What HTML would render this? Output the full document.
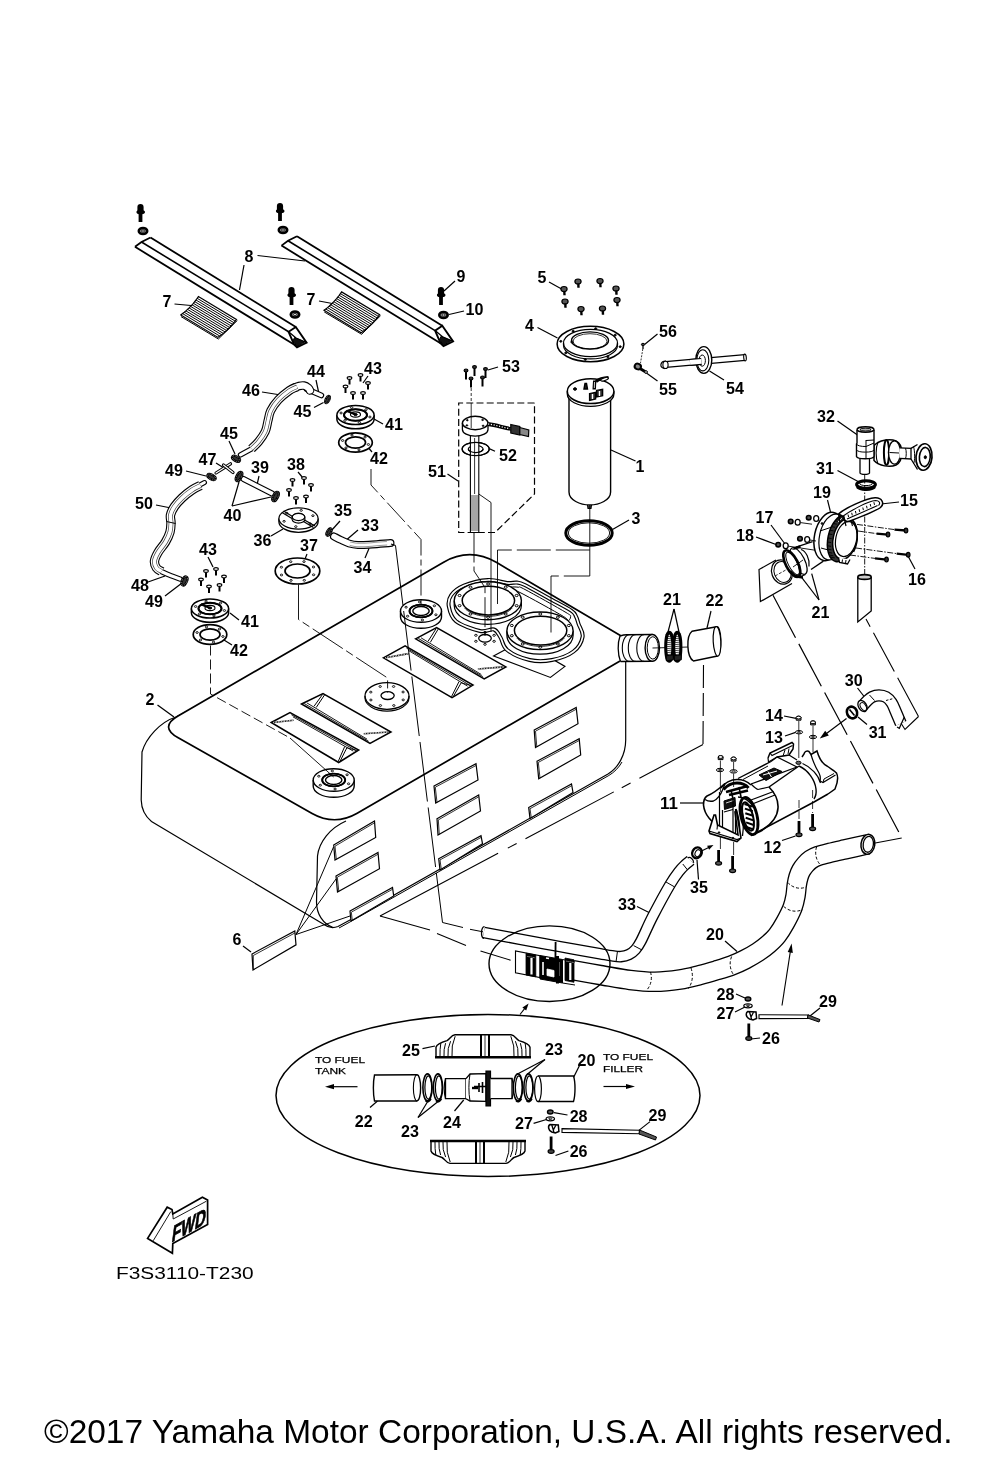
<!DOCTYPE html>
<html><head><meta charset="utf-8"><title>Fuel Tank</title>
<style>
html,body{margin:0;padding:0;background:#fff;}
body{width:1000px;height:1457px;overflow:hidden;font-family:"Liberation Sans",sans-serif;}
svg{display:block;filter:grayscale(1);font-family:"Liberation Sans",sans-serif;}
</style></head><body>
<svg width="1000" height="1457" viewBox="0 0 1000 1457" fill="none" stroke="#000" stroke-linecap="butt" stroke-linejoin="miter">
<rect x="0" y="0" width="1000" height="1457" fill="#fff" stroke="none"/>
<path d="M176 717C160 722 146 738 142 752L141.2 800C141.5 810 146 817 151.5 821.5L324 924.5C328 927.5 333 928.5 338 926.5L350 920L608 774C618 768 625.7 755 625.7 740L625.7 660L620 636L470 562Z" stroke-width="1.2" fill="#fff"/>
<path d="M178.2 737.8Q159 727 178 716L443.2 562.4Q470 546.9 496.7 562.6L640.3 647.3Q642 648.3 640.3 649.3L357.2 813.2Q334.7 826.2 312.1 813.4Z" stroke-width="1.7" fill="#fff"/>
<path d="M339 928L350.8 921.5L608.8 775.5C614 772.5 619 767.5 622 762" stroke-width="1"/>
<path d="M346 821C330 828 319 842 317.5 856L316.5 902C316.5 914 323 924 333 927.5" stroke-width="1.2"/>
<path d="M333.7 845L374.5 821L375.7 837.5L335 860Z" stroke-width="1.2" fill="#fff"/>
<path d="M336.3 859.4L335 846.2L374.5 822.8" stroke-width="0.8"/>
<path d="M336 876L378 852.5L379.5 868.7L337.5 892Z" stroke-width="1.2" fill="#fff"/>
<path d="M338.8 891.4L337.3 877.2L378 854.3" stroke-width="0.8"/>
<path d="M350 911L392.5 887.5L393.7 896L351 921Z" stroke-width="1.2" fill="#fff"/>
<path d="M352.3 920.4L351.3 912.2L392.5 889.3" stroke-width="0.8"/>
<path d="M434 786L476 763.7L478 780L435.7 803Z" stroke-width="1.2" fill="#fff"/>
<path d="M437 802.4L435.3 787.2L476 765.5" stroke-width="0.8"/>
<path d="M437 818.7L478.7 795L480.5 811L438 835Z" stroke-width="1.2" fill="#fff"/>
<path d="M439.3 834.4L438.3 819.9L478.7 796.8" stroke-width="0.8"/>
<path d="M438.7 858.7L481 835.7L482.5 843.7L440 870Z" stroke-width="1.2" fill="#fff"/>
<path d="M441.3 869.4L440 859.9L481 837.5" stroke-width="0.8"/>
<path d="M534.2 730L576.2 707.5L578 723.7L535.5 747.5Z" stroke-width="1.2" fill="#fff"/>
<path d="M536.8 746.9L535.5 731.2L576.2 709.3" stroke-width="0.8"/>
<path d="M537 761.2L579.2 738.7L580.7 755L538.7 778.7Z" stroke-width="1.2" fill="#fff"/>
<path d="M540 778.1L538.3 762.4L579.2 740.5" stroke-width="0.8"/>
<path d="M528.7 807.5L571.5 784L573 792.5L530 818.5Z" stroke-width="1.2" fill="#fff"/>
<path d="M531.3 817.9L530 808.7L571.5 785.8" stroke-width="0.8"/>
<path d="M252 954L294.8 931L296 944.8L253 970Z" stroke-width="1.2" fill="#fff"/>
<path d="M253.3 969L253.3 955.5L294.8 933" stroke-width="0.8"/>
<path d="M296 934.5L333.5 847" stroke-width="1"/>
<path d="M296 934.5L336 879" stroke-width="1"/>
<path d="M296 934.5L350 916" stroke-width="1"/>
<path d="M271.2 722.5L290 712.5L358.7 750L338.7 762.5Z" stroke-width="1.5" fill="#fff"/>
<path d="M291.4 714.7L356 750.5" stroke-width="0.9"/>
<path d="M292.9 716.8L353.3 751.1" stroke-width="0.9"/>
<path d="M273.2 722.5L293.5 720.2" stroke-width="1.6"/>
<path d="M273.2 722.5L293.5 720.2" stroke="#fff" stroke-width="1.6" stroke-dasharray="0.7 0.9"/>
<path d="M344.7 746.5L338.2 761.5" stroke-width="1"/>
<path d="M346.9 747.7L340.2 761" stroke-width="1"/>
<path d="M346.9 747.7L356.7 750.5" stroke-width="0.9"/>
<path d="M301.5 704L323 693.5L391 732L370 743.5Z" stroke-width="1.5" fill="#fff"/>
<path d="M304.2 703.5L368.6 741.3" stroke-width="0.9"/>
<path d="M306.9 702.9L367.1 739.2" stroke-width="0.9"/>
<path d="M322.5 694.5L314 706.3" stroke-width="1"/>
<path d="M324.5 695L316.2 707.5" stroke-width="1"/>
<path d="M363.7 733.7L389 732" stroke-width="1.6"/>
<path d="M363.7 733.7L389 732" stroke="#fff" stroke-width="1.6" stroke-dasharray="0.7 0.9"/>
<path d="M383.4 657.8L405.1 645.9L473 685.1L452 697.7Z" stroke-width="1.5" fill="#fff"/>
<path d="M406.5 648.1L470.3 685.6" stroke-width="0.9"/>
<path d="M408 650.2L467.6 686.2" stroke-width="0.9"/>
<path d="M385.4 657.8L408.6 653.6" stroke-width="1.6"/>
<path d="M385.4 657.8L408.6 653.6" stroke="#fff" stroke-width="1.6" stroke-dasharray="0.7 0.9"/>
<path d="M459 681.6L451.5 696.7" stroke-width="1"/>
<path d="M461.2 682.8L453.5 696.2" stroke-width="1"/>
<path d="M461.2 682.8L471 685.6" stroke-width="0.9"/>
<path d="M415.6 638.9L436.6 627.7L505.9 666.9L484.2 678.8Z" stroke-width="1.5" fill="#fff"/>
<path d="M418.3 638.4L482.8 676.6" stroke-width="0.9"/>
<path d="M421 637.8L481.3 674.5" stroke-width="0.9"/>
<path d="M436.1 628.7L428.1 641.2" stroke-width="1"/>
<path d="M438.1 629.2L430.3 642.4" stroke-width="1"/>
<path d="M477.9 669L503.9 666.9" stroke-width="1.6"/>
<path d="M477.9 669L503.9 666.9" stroke="#fff" stroke-width="1.6" stroke-dasharray="0.7 0.9"/>
<path d="M313.2 780L313.2 786A20.5 11.3 0 0 0 354.2 786L354.2 780" stroke-width="1.4" fill="#fff"/>
<ellipse cx="333.7" cy="780" rx="20.5" ry="11.3" stroke-width="1.4" fill="#fff"/>
<ellipse cx="333.7" cy="780" rx="11.5" ry="6.4" stroke-width="1.4"/>
<ellipse cx="333.7" cy="780" rx="8.2" ry="4.5" stroke-width="1.4"/>
<ellipse cx="348.6" cy="783.8" rx="1.2" ry="0.9" stroke-width="0.9"/>
<ellipse cx="335.1" cy="789" rx="1.2" ry="0.9" stroke-width="0.9"/>
<ellipse cx="320.3" cy="785.2" rx="1.2" ry="0.9" stroke-width="0.9"/>
<ellipse cx="318.8" cy="776.2" rx="1.2" ry="0.9" stroke-width="0.9"/>
<ellipse cx="332.3" cy="771" rx="1.2" ry="0.9" stroke-width="0.9"/>
<ellipse cx="347.1" cy="774.8" rx="1.2" ry="0.9" stroke-width="0.9"/>
<ellipse cx="333.7" cy="780" rx="11.5" ry="6.4" stroke-width="1.9"/>
<path d="M400.5 611L400.5 617A20.5 11.3 0 0 0 441.5 617L441.5 611" stroke-width="1.4" fill="#fff"/>
<ellipse cx="421" cy="611" rx="20.5" ry="11.3" stroke-width="1.4" fill="#fff"/>
<ellipse cx="421" cy="611" rx="11.5" ry="6.4" stroke-width="1.4"/>
<ellipse cx="421" cy="611" rx="8.2" ry="4.5" stroke-width="1.4"/>
<ellipse cx="435.9" cy="614.8" rx="1.2" ry="0.9" stroke-width="0.9"/>
<ellipse cx="422.4" cy="620" rx="1.2" ry="0.9" stroke-width="0.9"/>
<ellipse cx="407.6" cy="616.2" rx="1.2" ry="0.9" stroke-width="0.9"/>
<ellipse cx="406.1" cy="607.2" rx="1.2" ry="0.9" stroke-width="0.9"/>
<ellipse cx="419.6" cy="602" rx="1.2" ry="0.9" stroke-width="0.9"/>
<ellipse cx="434.4" cy="605.8" rx="1.2" ry="0.9" stroke-width="0.9"/>
<ellipse cx="421" cy="611" rx="11.5" ry="6.4" stroke-width="1.9"/>
<ellipse cx="387" cy="696" rx="22" ry="13.3" stroke-width="1.3" fill="#fff"/>
<path d="M365 696L365 697.8A22 13.3 0 0 0 409 697.8L409 696" stroke-width="1.1"/>
<ellipse cx="387.6" cy="695.6" rx="6.6" ry="3.9" stroke-width="1.3"/>
<ellipse cx="403.2" cy="699.9" rx="1.2" ry="0.9" stroke-width="0.9"/>
<ellipse cx="393.8" cy="705.5" rx="1.2" ry="0.9" stroke-width="0.9"/>
<ellipse cx="380.4" cy="705.5" rx="1.2" ry="0.9" stroke-width="0.9"/>
<ellipse cx="370.9" cy="700" rx="1.2" ry="0.9" stroke-width="0.9"/>
<ellipse cx="370.8" cy="692.1" rx="1.2" ry="0.9" stroke-width="0.9"/>
<ellipse cx="380.2" cy="686.5" rx="1.2" ry="0.9" stroke-width="0.9"/>
<ellipse cx="393.6" cy="686.5" rx="1.2" ry="0.9" stroke-width="0.9"/>
<ellipse cx="403.1" cy="692" rx="1.2" ry="0.9" stroke-width="0.9"/>
<path d="M493.6 656L550.4 677.5L565 666.4L521 641Z" stroke-width="1.1"/>
<path d="M448.8 606.4C448 602.1 448.7 598.7 451.2 595.2C453.7 591.7 457.9 588.1 464 585.6C470.1 583.1 480.8 580.4 488 580C495.2 579.6 502.4 582.6 507.2 583C512 583.4 513.9 582.3 516.8 582.6C519.7 582.9 519.6 582.5 524.8 585C530 587.5 540.3 593.5 548 597.8C555.7 602.1 566.5 607.5 571.2 610.6C575.9 613.7 574.8 614.3 576 616.5C577.2 618.7 577.5 620.6 578.6 624C579.7 627.4 583.5 632.2 582.6 636.8C581.8 641.4 578.6 647.6 573.5 651.5C568.4 655.4 559.3 658.6 552 660C544.7 661.4 537.1 661.7 529.6 660C522.1 658.3 512 653.8 507.2 650C502.3 646.2 502.7 640.9 500.5 637.5C498.3 634.1 497.4 630.6 494 629.5C490.6 628.4 486.3 632.4 480 631C473.7 629.6 461.2 625.3 456 621.2C450.8 617.1 449.6 610.7 448.8 606.4Z" stroke-width="4" fill="#fff"/>
<path d="M448.8 606.4C448 602.1 448.7 598.7 451.2 595.2C453.7 591.7 457.9 588.1 464 585.6C470.1 583.1 480.8 580.4 488 580C495.2 579.6 502.4 582.6 507.2 583C512 583.4 513.9 582.3 516.8 582.6C519.7 582.9 519.6 582.5 524.8 585C530 587.5 540.3 593.5 548 597.8C555.7 602.1 566.5 607.5 571.2 610.6C575.9 613.7 574.8 614.3 576 616.5C577.2 618.7 577.5 620.6 578.6 624C579.7 627.4 583.5 632.2 582.6 636.8C581.8 641.4 578.6 647.6 573.5 651.5C568.4 655.4 559.3 658.6 552 660C544.7 661.4 537.1 661.7 529.6 660C522.1 658.3 512 653.8 507.2 650C502.3 646.2 502.7 640.9 500.5 637.5C498.3 634.1 497.4 630.6 494 629.5C490.6 628.4 486.3 632.4 480 631C473.7 629.6 461.2 625.3 456 621.2C450.8 617.1 449.6 610.7 448.8 606.4Z" stroke-width="1.7" stroke="#fff"/>
<path d="M511 587C512.2 587 515.7 586.8 518 587.2C520.3 587.6 517 585.3 525 589.5C533 593.7 558.4 607.9 566 612.5C573.6 617.1 570.1 615.6 570.5 617C570.9 618.4 568.8 620.3 568.5 621" stroke-width="1"/>
<path d="M513 591.5C514.2 591.7 511.6 588.3 520 592.5C528.4 596.7 555.8 611.8 563.5 616.5C571.2 621.2 565.6 619.8 566 620.5" stroke-width="1"/>
<path d="M454.2 600.8L454.2 605.4A33.6 19 0 0 0 521.4 605.4L521.4 600.8" stroke-width="1.2" fill="#fff"/>
<ellipse cx="487.8" cy="600.8" rx="33.6" ry="19" stroke-width="1.4" fill="#fff"/>
<ellipse cx="488.4" cy="600.6" rx="26.2" ry="14.4" stroke-width="1.5"/>
<path d="M512.1 608.1L511 609.3L509.6 610.4L508.1 611.5L506.4 612.5L504.5 613.4L502.5 614.1L500.3 614.8L498.1 615.4L495.7 615.8L493.3 616.1L490.9 616.3L488.4 616.4L485.9 616.3L483.5 616.1L481.1 615.8L478.7 615.4L476.5 614.8L474.3 614.1L472.3 613.4L470.4 612.5L468.7 611.5L467.2 610.4L465.8 609.3L464.7 608.1" stroke-width="0.8"/>
<ellipse cx="516.6" cy="605.7" rx="1.5" ry="1.1" stroke-width="1"/>
<ellipse cx="505.7" cy="614" rx="1.5" ry="1.1" stroke-width="1"/>
<ellipse cx="488.1" cy="617.2" rx="1.5" ry="1.1" stroke-width="1"/>
<ellipse cx="470.5" cy="614" rx="1.5" ry="1.1" stroke-width="1"/>
<ellipse cx="459.6" cy="605.7" rx="1.5" ry="1.1" stroke-width="1"/>
<ellipse cx="459.6" cy="595.5" rx="1.5" ry="1.1" stroke-width="1"/>
<ellipse cx="470.5" cy="587.2" rx="1.5" ry="1.1" stroke-width="1"/>
<ellipse cx="488.1" cy="584" rx="1.5" ry="1.1" stroke-width="1"/>
<ellipse cx="505.7" cy="587.2" rx="1.5" ry="1.1" stroke-width="1"/>
<ellipse cx="516.6" cy="595.5" rx="1.5" ry="1.1" stroke-width="1"/>
<path d="M506.9 630.8L506.9 635.4A33.1 18.8 0 0 0 573.1 635.4L573.1 630.8" stroke-width="1.2" fill="#fff"/>
<ellipse cx="540" cy="630.8" rx="33.1" ry="18.8" stroke-width="1.4" fill="#fff"/>
<ellipse cx="540.6" cy="630.6" rx="26.2" ry="14.4" stroke-width="1.5"/>
<path d="M564.3 638.1L563.2 639.3L561.8 640.4L560.3 641.5L558.6 642.5L556.7 643.4L554.7 644.1L552.5 644.8L550.3 645.4L547.9 645.8L545.5 646.1L543.1 646.3L540.6 646.4L538.1 646.3L535.7 646.1L533.3 645.8L530.9 645.4L528.7 644.8L526.5 644.1L524.5 643.4L522.6 642.5L520.9 641.5L519.4 640.4L518 639.3L516.9 638.1" stroke-width="0.8"/>
<ellipse cx="568.8" cy="635.7" rx="1.5" ry="1.1" stroke-width="1"/>
<ellipse cx="557.9" cy="644" rx="1.5" ry="1.1" stroke-width="1"/>
<ellipse cx="540.3" cy="647.2" rx="1.5" ry="1.1" stroke-width="1"/>
<ellipse cx="522.7" cy="644" rx="1.5" ry="1.1" stroke-width="1"/>
<ellipse cx="511.8" cy="635.7" rx="1.5" ry="1.1" stroke-width="1"/>
<ellipse cx="511.8" cy="625.5" rx="1.5" ry="1.1" stroke-width="1"/>
<ellipse cx="522.7" cy="617.2" rx="1.5" ry="1.1" stroke-width="1"/>
<ellipse cx="540.3" cy="614" rx="1.5" ry="1.1" stroke-width="1"/>
<ellipse cx="557.9" cy="617.2" rx="1.5" ry="1.1" stroke-width="1"/>
<ellipse cx="568.8" cy="625.5" rx="1.5" ry="1.1" stroke-width="1"/>
<ellipse cx="485" cy="638.3" rx="6.3" ry="3.8" stroke-width="1.3"/>
<ellipse cx="494.1" cy="641.3" rx="1.3" ry="1" stroke-width="0.9"/>
<ellipse cx="485" cy="644.3" rx="1.3" ry="1" stroke-width="0.9"/>
<ellipse cx="475.9" cy="641.3" rx="1.3" ry="1" stroke-width="0.9"/>
<ellipse cx="475.9" cy="635.3" rx="1.3" ry="1" stroke-width="0.9"/>
<ellipse cx="485" cy="632.3" rx="1.3" ry="1" stroke-width="0.9"/>
<ellipse cx="494.1" cy="635.3" rx="1.3" ry="1" stroke-width="0.9"/>
<path d="M620 636C617 643 617 654 620 661.5L652 661.5L652 634.5L626 634.8Z" stroke-width="0" fill="#fff"/>
<path d="M620 636C617.5 643 617.5 654 620.5 661.5" stroke-width="1.3"/>
<path d="M620 636C623 635 625 634.8 627 634.8L652.5 634.5" stroke-width="1.4"/>
<path d="M620.5 661.5L652.5 661.3" stroke-width="1.4"/>
<ellipse cx="652.3" cy="647.9" rx="7.2" ry="13.4" stroke-width="1.4" fill="#fff"/>
<ellipse cx="652.8" cy="647.9" rx="5.6" ry="11.2" stroke-width="1"/>
<path d="M629.5 661.4L628.6 661.3L627.6 660.9L626.7 660.4L625.9 659.6L625.1 658.6L624.4 657.5L623.8 656.2L623.3 654.7L622.8 653.1L622.5 651.5L622.4 649.7L622.3 648L622.4 646.3L622.5 644.5L622.8 642.9L623.3 641.3L623.8 639.8L624.4 638.5L625.1 637.4L625.9 636.4L626.7 635.6L627.6 635.1L628.6 634.7L629.5 634.6" stroke-width="1.1"/>
<path d="M635.5 661.4L634.6 661.3L633.6 660.9L632.7 660.4L631.9 659.6L631.1 658.6L630.4 657.5L629.8 656.2L629.3 654.7L628.8 653.1L628.5 651.5L628.4 649.7L628.3 648L628.4 646.3L628.5 644.5L628.8 642.9L629.3 641.3L629.8 639.8L630.4 638.5L631.1 637.4L631.9 636.4L632.7 635.6L633.6 635.1L634.6 634.7L635.5 634.6" stroke-width="1.1"/>
<path d="M644 661.4L643.1 661.3L642.1 660.9L641.2 660.4L640.4 659.6L639.6 658.6L638.9 657.5L638.3 656.2L637.8 654.7L637.3 653.1L637 651.5L636.9 649.7L636.8 648L636.9 646.3L637 644.5L637.3 642.9L637.8 641.3L638.3 639.8L638.9 638.5L639.6 637.4L640.4 636.4L641.2 635.6L642.1 635.1L643.1 634.7L644 634.6" stroke-width="1.1"/>
<path d="M371 469L371 485L421 539.5L421 606" stroke-width="0.9" stroke-dasharray="26 4 6 4"/>
<path d="M210.5 645.5L210.5 694L290 738" stroke-width="0.9" stroke-dasharray="10 4"/>
<path d="M290 738L333.7 777" stroke-width="0.9"/>
<path d="M298.5 584.5L298.5 619.5L387.6 678L387.6 693" stroke-width="0.9" stroke-dasharray="36 4 8 4"/>
<path d="M395.5 545.5L442.5 922.5" stroke-width="1" stroke-dasharray="60 6"/>
<path d="M442.5 922.5L463 927.5" stroke-width="1"/>
<path d="M470 929.3L483 931.8" stroke-width="1"/>
<path d="M474 532.5L474 571L485 587.5L485 636" stroke-width="0.9" stroke-dasharray="30 4"/>
<path d="M471.2 388L471.2 404" stroke-width="0.8" stroke-dasharray="3 2"/>
<path d="M589.8 508.5L589.8 576" stroke-width="0.9"/>
<path d="M589.8 550L497.5 550" stroke-width="0.9" stroke-dasharray="34 5"/>
<path d="M497.5 550L497.5 604" stroke-width="0.9"/>
<path d="M589.8 576L551 576" stroke-width="0.9" stroke-dasharray="26 5"/>
<path d="M551 576L551 632.5" stroke-width="0.9"/>
<path d="M703.5 665L703 744.5" stroke-width="1.1" stroke-dasharray="23 5"/>
<path d="M703 744.5L380 916" stroke-width="1.1" stroke-dasharray="72 10 10 9 100 10 10 11 150"/>
<path d="M380 916L430 930" stroke-width="1.1"/>
<path d="M437 933.5L466 945.5" stroke-width="1.1"/>
<path d="M480.5 951L510.6 960.2" stroke-width="1.1"/>
<path d="M918.5 716.5L866 619" stroke-width="1.1" stroke-dasharray="44 7"/>
<path d="M866 844.8L901.7 838" stroke-width="1.1"/>
<text x="44" y="1442.5" font-size="33.45" fill="#000" stroke="none" textLength="908.5" lengthAdjust="spacingAndGlyphs">©2017 Yamaha Motor Corporation, U.S.A. All rights reserved.</text>
<text x="116" y="1279.3" font-size="16.9" fill="#000" stroke="none" textLength="137.6" lengthAdjust="spacingAndGlyphs">F3S3110-T230</text>
<text x="315" y="1062.5" font-size="9" fill="#000" stroke="#000" stroke-width="0.25" textLength="50" lengthAdjust="spacingAndGlyphs">TO FUEL</text>
<text x="315" y="1074.2" font-size="9" fill="#000" stroke="#000" stroke-width="0.25" textLength="31" lengthAdjust="spacingAndGlyphs">TANK</text>
<text x="603" y="1060.4" font-size="9" fill="#000" stroke="#000" stroke-width="0.25" textLength="50" lengthAdjust="spacingAndGlyphs">TO FUEL</text>
<text x="603" y="1071.8" font-size="9" fill="#000" stroke="#000" stroke-width="0.25" textLength="40" lengthAdjust="spacingAndGlyphs">FILLER</text>
<path d="M357.5 1086.7L331.3 1086.7" stroke-width="1.2"/>
<path d="M325 1086.7L334 1084.1L334 1089.3Z" fill="#000" stroke="none"/>
<path d="M603.5 1086.5L628.7 1086.5" stroke-width="1.2"/>
<path d="M635 1086.5L626 1089.1L626 1083.9Z" fill="#000" stroke="none"/>
<text x="167" y="307.2" font-size="17.3" font-weight="bold" text-anchor="middle" fill="#000" stroke="none" textLength="8.9" lengthAdjust="spacingAndGlyphs">7</text>
<text x="311" y="305.2" font-size="17.3" font-weight="bold" text-anchor="middle" fill="#000" stroke="none" textLength="8.9" lengthAdjust="spacingAndGlyphs">7</text>
<text x="249" y="262.2" font-size="17.3" font-weight="bold" text-anchor="middle" fill="#000" stroke="none" textLength="8.9" lengthAdjust="spacingAndGlyphs">8</text>
<text x="461" y="282.2" font-size="17.3" font-weight="bold" text-anchor="middle" fill="#000" stroke="none" textLength="8.9" lengthAdjust="spacingAndGlyphs">9</text>
<text x="474.5" y="315.2" font-size="17.3" font-weight="bold" text-anchor="middle" fill="#000" stroke="none" textLength="17.9" lengthAdjust="spacingAndGlyphs">10</text>
<text x="316" y="377.2" font-size="17.3" font-weight="bold" text-anchor="middle" fill="#000" stroke="none" textLength="17.9" lengthAdjust="spacingAndGlyphs">44</text>
<text x="251" y="396.2" font-size="17.3" font-weight="bold" text-anchor="middle" fill="#000" stroke="none" textLength="17.9" lengthAdjust="spacingAndGlyphs">46</text>
<text x="302.5" y="417.2" font-size="17.3" font-weight="bold" text-anchor="middle" fill="#000" stroke="none" textLength="17.9" lengthAdjust="spacingAndGlyphs">45</text>
<text x="229" y="438.7" font-size="17.3" font-weight="bold" text-anchor="middle" fill="#000" stroke="none" textLength="17.9" lengthAdjust="spacingAndGlyphs">45</text>
<text x="373" y="374.2" font-size="17.3" font-weight="bold" text-anchor="middle" fill="#000" stroke="none" textLength="17.9" lengthAdjust="spacingAndGlyphs">43</text>
<text x="208" y="555.2" font-size="17.3" font-weight="bold" text-anchor="middle" fill="#000" stroke="none" textLength="17.9" lengthAdjust="spacingAndGlyphs">43</text>
<text x="394" y="430.2" font-size="17.3" font-weight="bold" text-anchor="middle" fill="#000" stroke="none" textLength="17.9" lengthAdjust="spacingAndGlyphs">41</text>
<text x="250" y="627.2" font-size="17.3" font-weight="bold" text-anchor="middle" fill="#000" stroke="none" textLength="17.9" lengthAdjust="spacingAndGlyphs">41</text>
<text x="379" y="463.7" font-size="17.3" font-weight="bold" text-anchor="middle" fill="#000" stroke="none" textLength="17.9" lengthAdjust="spacingAndGlyphs">42</text>
<text x="239" y="656.2" font-size="17.3" font-weight="bold" text-anchor="middle" fill="#000" stroke="none" textLength="17.9" lengthAdjust="spacingAndGlyphs">42</text>
<text x="207.5" y="464.7" font-size="17.3" font-weight="bold" text-anchor="middle" fill="#000" stroke="none" textLength="17.9" lengthAdjust="spacingAndGlyphs">47</text>
<text x="174" y="476.2" font-size="17.3" font-weight="bold" text-anchor="middle" fill="#000" stroke="none" textLength="17.9" lengthAdjust="spacingAndGlyphs">49</text>
<text x="154" y="607.2" font-size="17.3" font-weight="bold" text-anchor="middle" fill="#000" stroke="none" textLength="17.9" lengthAdjust="spacingAndGlyphs">49</text>
<text x="260" y="473.2" font-size="17.3" font-weight="bold" text-anchor="middle" fill="#000" stroke="none" textLength="17.9" lengthAdjust="spacingAndGlyphs">39</text>
<text x="296" y="470.2" font-size="17.3" font-weight="bold" text-anchor="middle" fill="#000" stroke="none" textLength="17.9" lengthAdjust="spacingAndGlyphs">38</text>
<text x="232.5" y="520.7" font-size="17.3" font-weight="bold" text-anchor="middle" fill="#000" stroke="none" textLength="17.9" lengthAdjust="spacingAndGlyphs">40</text>
<text x="144" y="509.2" font-size="17.3" font-weight="bold" text-anchor="middle" fill="#000" stroke="none" textLength="17.9" lengthAdjust="spacingAndGlyphs">50</text>
<text x="262.5" y="546.2" font-size="17.3" font-weight="bold" text-anchor="middle" fill="#000" stroke="none" textLength="17.9" lengthAdjust="spacingAndGlyphs">36</text>
<text x="309" y="551.2" font-size="17.3" font-weight="bold" text-anchor="middle" fill="#000" stroke="none" textLength="17.9" lengthAdjust="spacingAndGlyphs">37</text>
<text x="343" y="515.7" font-size="17.3" font-weight="bold" text-anchor="middle" fill="#000" stroke="none" textLength="17.9" lengthAdjust="spacingAndGlyphs">35</text>
<text x="699" y="893.2" font-size="17.3" font-weight="bold" text-anchor="middle" fill="#000" stroke="none" textLength="17.9" lengthAdjust="spacingAndGlyphs">35</text>
<text x="370" y="530.7" font-size="17.3" font-weight="bold" text-anchor="middle" fill="#000" stroke="none" textLength="17.9" lengthAdjust="spacingAndGlyphs">33</text>
<text x="627" y="909.7" font-size="17.3" font-weight="bold" text-anchor="middle" fill="#000" stroke="none" textLength="17.9" lengthAdjust="spacingAndGlyphs">33</text>
<text x="362.5" y="572.7" font-size="17.3" font-weight="bold" text-anchor="middle" fill="#000" stroke="none" textLength="17.9" lengthAdjust="spacingAndGlyphs">34</text>
<text x="140" y="591.2" font-size="17.3" font-weight="bold" text-anchor="middle" fill="#000" stroke="none" textLength="17.9" lengthAdjust="spacingAndGlyphs">48</text>
<text x="150" y="705.2" font-size="17.3" font-weight="bold" text-anchor="middle" fill="#000" stroke="none" textLength="8.9" lengthAdjust="spacingAndGlyphs">2</text>
<text x="237" y="945.2" font-size="17.3" font-weight="bold" text-anchor="middle" fill="#000" stroke="none" textLength="8.9" lengthAdjust="spacingAndGlyphs">6</text>
<text x="542" y="283.2" font-size="17.3" font-weight="bold" text-anchor="middle" fill="#000" stroke="none" textLength="8.9" lengthAdjust="spacingAndGlyphs">5</text>
<text x="529.5" y="330.7" font-size="17.3" font-weight="bold" text-anchor="middle" fill="#000" stroke="none" textLength="8.9" lengthAdjust="spacingAndGlyphs">4</text>
<text x="668" y="336.7" font-size="17.3" font-weight="bold" text-anchor="middle" fill="#000" stroke="none" textLength="17.9" lengthAdjust="spacingAndGlyphs">56</text>
<text x="668" y="395.2" font-size="17.3" font-weight="bold" text-anchor="middle" fill="#000" stroke="none" textLength="17.9" lengthAdjust="spacingAndGlyphs">55</text>
<text x="735" y="393.7" font-size="17.3" font-weight="bold" text-anchor="middle" fill="#000" stroke="none" textLength="17.9" lengthAdjust="spacingAndGlyphs">54</text>
<text x="511" y="372.2" font-size="17.3" font-weight="bold" text-anchor="middle" fill="#000" stroke="none" textLength="17.9" lengthAdjust="spacingAndGlyphs">53</text>
<text x="508" y="460.7" font-size="17.3" font-weight="bold" text-anchor="middle" fill="#000" stroke="none" textLength="17.9" lengthAdjust="spacingAndGlyphs">52</text>
<text x="437" y="477.2" font-size="17.3" font-weight="bold" text-anchor="middle" fill="#000" stroke="none" textLength="17.9" lengthAdjust="spacingAndGlyphs">51</text>
<text x="640" y="472.2" font-size="17.3" font-weight="bold" text-anchor="middle" fill="#000" stroke="none" textLength="8.9" lengthAdjust="spacingAndGlyphs">1</text>
<text x="636" y="523.7" font-size="17.3" font-weight="bold" text-anchor="middle" fill="#000" stroke="none" textLength="8.9" lengthAdjust="spacingAndGlyphs">3</text>
<text x="826" y="422.2" font-size="17.3" font-weight="bold" text-anchor="middle" fill="#000" stroke="none" textLength="17.9" lengthAdjust="spacingAndGlyphs">32</text>
<text x="825" y="473.7" font-size="17.3" font-weight="bold" text-anchor="middle" fill="#000" stroke="none" textLength="17.9" lengthAdjust="spacingAndGlyphs">31</text>
<text x="877.6" y="737.9" font-size="17.3" font-weight="bold" text-anchor="middle" fill="#000" stroke="none" textLength="17.9" lengthAdjust="spacingAndGlyphs">31</text>
<text x="822" y="498.2" font-size="17.3" font-weight="bold" text-anchor="middle" fill="#000" stroke="none" textLength="17.9" lengthAdjust="spacingAndGlyphs">19</text>
<text x="909" y="506.2" font-size="17.3" font-weight="bold" text-anchor="middle" fill="#000" stroke="none" textLength="17.9" lengthAdjust="spacingAndGlyphs">15</text>
<text x="764.5" y="523.2" font-size="17.3" font-weight="bold" text-anchor="middle" fill="#000" stroke="none" textLength="17.9" lengthAdjust="spacingAndGlyphs">17</text>
<text x="745" y="540.7" font-size="17.3" font-weight="bold" text-anchor="middle" fill="#000" stroke="none" textLength="17.9" lengthAdjust="spacingAndGlyphs">18</text>
<text x="917" y="585.2" font-size="17.3" font-weight="bold" text-anchor="middle" fill="#000" stroke="none" textLength="17.9" lengthAdjust="spacingAndGlyphs">16</text>
<text x="820.5" y="618.2" font-size="17.3" font-weight="bold" text-anchor="middle" fill="#000" stroke="none" textLength="17.9" lengthAdjust="spacingAndGlyphs">21</text>
<text x="672" y="604.8" font-size="17.3" font-weight="bold" text-anchor="middle" fill="#000" stroke="none" textLength="17.9" lengthAdjust="spacingAndGlyphs">21</text>
<text x="714.4" y="606.2" font-size="17.3" font-weight="bold" text-anchor="middle" fill="#000" stroke="none" textLength="17.9" lengthAdjust="spacingAndGlyphs">22</text>
<text x="363.7" y="1127.2" font-size="17.3" font-weight="bold" text-anchor="middle" fill="#000" stroke="none" textLength="17.9" lengthAdjust="spacingAndGlyphs">22</text>
<text x="853.7" y="685.7" font-size="17.3" font-weight="bold" text-anchor="middle" fill="#000" stroke="none" textLength="17.9" lengthAdjust="spacingAndGlyphs">30</text>
<text x="774" y="721.2" font-size="17.3" font-weight="bold" text-anchor="middle" fill="#000" stroke="none" textLength="17.9" lengthAdjust="spacingAndGlyphs">14</text>
<text x="774" y="743.2" font-size="17.3" font-weight="bold" text-anchor="middle" fill="#000" stroke="none" textLength="17.9" lengthAdjust="spacingAndGlyphs">13</text>
<text x="669" y="809.2" font-size="17.3" font-weight="bold" text-anchor="middle" fill="#000" stroke="none" textLength="17.9" lengthAdjust="spacingAndGlyphs">11</text>
<text x="772.4" y="852.7" font-size="17.3" font-weight="bold" text-anchor="middle" fill="#000" stroke="none" textLength="17.9" lengthAdjust="spacingAndGlyphs">12</text>
<text x="715" y="940.2" font-size="17.3" font-weight="bold" text-anchor="middle" fill="#000" stroke="none" textLength="17.9" lengthAdjust="spacingAndGlyphs">20</text>
<text x="586.4" y="1065.7" font-size="17.3" font-weight="bold" text-anchor="middle" fill="#000" stroke="none" textLength="17.9" lengthAdjust="spacingAndGlyphs">20</text>
<text x="725.5" y="999.7" font-size="17.3" font-weight="bold" text-anchor="middle" fill="#000" stroke="none" textLength="17.9" lengthAdjust="spacingAndGlyphs">28</text>
<text x="578.6" y="1121.8" font-size="17.3" font-weight="bold" text-anchor="middle" fill="#000" stroke="none" textLength="17.9" lengthAdjust="spacingAndGlyphs">28</text>
<text x="725.5" y="1019.2" font-size="17.3" font-weight="bold" text-anchor="middle" fill="#000" stroke="none" textLength="17.9" lengthAdjust="spacingAndGlyphs">27</text>
<text x="524" y="1128.7" font-size="17.3" font-weight="bold" text-anchor="middle" fill="#000" stroke="none" textLength="17.9" lengthAdjust="spacingAndGlyphs">27</text>
<text x="771" y="1044.2" font-size="17.3" font-weight="bold" text-anchor="middle" fill="#000" stroke="none" textLength="17.9" lengthAdjust="spacingAndGlyphs">26</text>
<text x="578.6" y="1157.2" font-size="17.3" font-weight="bold" text-anchor="middle" fill="#000" stroke="none" textLength="17.9" lengthAdjust="spacingAndGlyphs">26</text>
<text x="828" y="1007.2" font-size="17.3" font-weight="bold" text-anchor="middle" fill="#000" stroke="none" textLength="17.9" lengthAdjust="spacingAndGlyphs">29</text>
<text x="657.5" y="1121.2" font-size="17.3" font-weight="bold" text-anchor="middle" fill="#000" stroke="none" textLength="17.9" lengthAdjust="spacingAndGlyphs">29</text>
<text x="410" y="1137.2" font-size="17.3" font-weight="bold" text-anchor="middle" fill="#000" stroke="none" textLength="17.9" lengthAdjust="spacingAndGlyphs">23</text>
<text x="554" y="1055.2" font-size="17.3" font-weight="bold" text-anchor="middle" fill="#000" stroke="none" textLength="17.9" lengthAdjust="spacingAndGlyphs">23</text>
<text x="452" y="1128.2" font-size="17.3" font-weight="bold" text-anchor="middle" fill="#000" stroke="none" textLength="17.9" lengthAdjust="spacingAndGlyphs">24</text>
<text x="411" y="1056.2" font-size="17.3" font-weight="bold" text-anchor="middle" fill="#000" stroke="none" textLength="17.9" lengthAdjust="spacingAndGlyphs">25</text>
<path d="M174.5 304L191 305.5" stroke-width="1.2"/>
<path d="M319 301L335 304" stroke-width="1.2"/>
<path d="M244 265L239.5 290" stroke-width="1.2"/>
<path d="M257.5 255.5L305 261" stroke-width="1.2"/>
<path d="M455 281L444 291" stroke-width="1.2"/>
<path d="M464 311L449 314.5" stroke-width="1.2"/>
<path d="M316 380L319 394" stroke-width="1.2"/>
<path d="M262 392L281 395" stroke-width="1.2"/>
<path d="M314 407.5L323.5 402.5" stroke-width="1.2"/>
<path d="M229 441L235 454" stroke-width="1.2"/>
<path d="M368 376L363 383" stroke-width="1.2"/>
<path d="M208 557L213 567" stroke-width="1.2"/>
<path d="M383 424L374 419" stroke-width="1.2"/>
<path d="M239 620L230 613" stroke-width="1.2"/>
<path d="M372 452L367 446" stroke-width="1.2"/>
<path d="M232 645L224 640" stroke-width="1.2"/>
<path d="M216 463L224 468" stroke-width="1.2"/>
<path d="M186 471L206 476" stroke-width="1.2"/>
<path d="M165 596L182 583" stroke-width="1.2"/>
<path d="M259 476L257 485" stroke-width="1.2"/>
<path d="M298 472L303 478" stroke-width="1.2"/>
<path d="M232 506L239 482" stroke-width="1.2"/>
<path d="M232 506L271 497" stroke-width="1.2"/>
<path d="M156 505L171 508" stroke-width="1.2"/>
<path d="M271 536L283 529" stroke-width="1.2"/>
<path d="M307 554L305 559" stroke-width="1.2"/>
<path d="M340 521L331 531" stroke-width="1.2"/>
<path d="M358 530L344 542" stroke-width="1.2"/>
<path d="M365 558L369 548.5" stroke-width="1.2"/>
<path d="M148 582L165 576" stroke-width="1.2"/>
<path d="M157.5 705L174 717" stroke-width="1.2"/>
<path d="M243 946L251 952" stroke-width="1.2"/>
<path d="M549 282L562.5 289.5" stroke-width="1.2"/>
<path d="M537.5 327.5L557.5 338" stroke-width="1.2"/>
<path d="M657.5 334L644.5 344.5" stroke-width="1.2"/>
<path d="M657.5 381L645 372" stroke-width="1.2"/>
<path d="M724 380L709.5 371" stroke-width="1.2"/>
<path d="M498 367L488 370" stroke-width="1.2"/>
<path d="M495 451.3L489.2 448.6" stroke-width="1.2"/>
<path d="M447.5 474L458 481" stroke-width="1.2"/>
<path d="M635.5 461L611 450" stroke-width="1.2"/>
<path d="M629 520L612.5 529.5" stroke-width="1.2"/>
<path d="M837.5 421L857.5 435" stroke-width="1.2"/>
<path d="M837.5 470.5L860 482.5" stroke-width="1.2"/>
<path d="M827.5 500L830.5 512" stroke-width="1.2"/>
<path d="M899 502L881 504" stroke-width="1.2"/>
<path d="M771 525L785 544" stroke-width="1.2"/>
<path d="M756 537L776 544.5" stroke-width="1.2"/>
<path d="M915 569L908 556" stroke-width="1.2"/>
<path d="M819 600L801.8 577.7" stroke-width="1.2"/>
<path d="M819 600L811.7 573.7" stroke-width="1.2"/>
<path d="M674 609L668 632" stroke-width="1.2"/>
<path d="M674 609L679 632" stroke-width="1.2"/>
<path d="M711 611L707 628" stroke-width="1.2"/>
<path d="M370 1107.5L377.5 1101" stroke-width="1.2"/>
<path d="M857.5 688L864.5 697" stroke-width="1.2"/>
<path d="M867 724.5L858 717" stroke-width="1.2"/>
<path d="M784 716L796 718.4" stroke-width="1.2"/>
<path d="M785 736L795.6 732.4" stroke-width="1.2"/>
<path d="M680 803L704 803" stroke-width="1.2"/>
<path d="M782 840.5L795.5 836" stroke-width="1.2"/>
<path d="M725 941L737 951.5" stroke-width="1.2"/>
<path d="M579.5 1065.5L573.5 1077.5" stroke-width="1.2"/>
<path d="M736 994L745 998" stroke-width="1.2"/>
<path d="M567.5 1115L554 1112.6" stroke-width="1.2"/>
<path d="M735 1012L745 1007" stroke-width="1.2"/>
<path d="M533.6 1123.4L546.5 1119.5" stroke-width="1.2"/>
<path d="M760 1038L751 1039" stroke-width="1.2"/>
<path d="M568.4 1151L555.5 1155.5" stroke-width="1.2"/>
<path d="M820 1008L810 1016" stroke-width="1.2"/>
<path d="M650 1121.6L638.6 1130.6" stroke-width="1.2"/>
<path d="M418 1117.5L428 1101" stroke-width="1.2"/>
<path d="M418 1117.5L438.7 1101" stroke-width="1.2"/>
<path d="M545 1059.5L516.5 1074.5" stroke-width="1.2"/>
<path d="M545 1059.5L527 1074.5" stroke-width="1.2"/>
<path d="M454.5 1111L463.7 1100" stroke-width="1.2"/>
<path d="M422.5 1048.7L435 1046" stroke-width="1.2"/>
<path d="M698.5 879.5L697 860" stroke-width="1.2"/>
<path d="M637 906.5L649 912.5" stroke-width="1.2"/>
<path d="M150.5 237.5L141.5 242L135 246.8" stroke-width="1.8"/>
<path d="M150.5 237.5L295.8 327" stroke-width="1.8"/>
<path d="M141.5 242L288.6 331.8" stroke-width="1.6"/>
<path d="M135 246.8L294 344.4" stroke-width="1.8"/>
<path d="M295.8 327L306.6 342.6L297 347.4L294 344.4L288.6 331.8Z" stroke-width="1.9" fill="#fff"/>
<path d="M288.6 331.8L296 338L306.6 342.6" stroke-width="1.3"/>
<path d="M296 338L295.5 346" stroke-width="1.3"/>
<path d="M294.5 337.5L304.5 342L297 346.5L293 341Z" stroke-width="1" fill="#111"/>
<path d="M297 236.3L288 240.8L281.5 245.6" stroke-width="1.8"/>
<path d="M297 236.3L442.3 325.8" stroke-width="1.8"/>
<path d="M288 240.8L435.1 330.6" stroke-width="1.6"/>
<path d="M281.5 245.6L440.5 343.2" stroke-width="1.8"/>
<path d="M442.3 325.8L453.1 341.4L443.5 346.2L440.5 343.2L435.1 330.6Z" stroke-width="1.9" fill="#fff"/>
<path d="M435.1 330.6L442.5 336.8L453.1 341.4" stroke-width="1.3"/>
<path d="M442.5 336.8L442 344.8" stroke-width="1.3"/>
<path d="M441 336.3L451 340.8L443.5 345.3L439.5 339.8Z" stroke-width="1" fill="#111"/>
<path d="M140.5 207.5L140.5 222" stroke-width="3.8" stroke-linecap="butt"/>
<path d="M140.5 207L140.5 211.5" stroke-width="6.2" stroke-linecap="round"/>
<ellipse cx="140.7" cy="212.1" rx="3.6" ry="1.5" stroke-width="1.4" fill="#000"/>
<path d="M291.5 290.5L291.5 305" stroke-width="3.8" stroke-linecap="butt"/>
<path d="M291.5 290L291.5 294.5" stroke-width="6.2" stroke-linecap="round"/>
<ellipse cx="291.7" cy="295.1" rx="3.6" ry="1.5" stroke-width="1.4" fill="#000"/>
<path d="M280 206.5L280 221" stroke-width="3.8" stroke-linecap="butt"/>
<path d="M280 206L280 210.5" stroke-width="6.2" stroke-linecap="round"/>
<ellipse cx="280.2" cy="211.1" rx="3.6" ry="1.5" stroke-width="1.4" fill="#000"/>
<path d="M441 290.5L441 305" stroke-width="3.8" stroke-linecap="butt"/>
<path d="M441 290L441 294.5" stroke-width="6.2" stroke-linecap="round"/>
<ellipse cx="441.2" cy="295.1" rx="3.6" ry="1.5" stroke-width="1.4" fill="#000"/>
<ellipse cx="143" cy="231" rx="4.2" ry="3" stroke-width="2.6" fill="#999"/>
<ellipse cx="143" cy="231" rx="1.6" ry="1" stroke-width="0.8" fill="#fff"/>
<ellipse cx="295" cy="314.5" rx="4.2" ry="3" stroke-width="2.6" fill="#999"/>
<ellipse cx="295" cy="314.5" rx="1.6" ry="1" stroke-width="0.8" fill="#fff"/>
<ellipse cx="283" cy="230" rx="4.2" ry="3" stroke-width="2.6" fill="#999"/>
<ellipse cx="283" cy="230" rx="1.6" ry="1" stroke-width="0.8" fill="#fff"/>
<ellipse cx="443.5" cy="315" rx="4.2" ry="3" stroke-width="2.6" fill="#999"/>
<ellipse cx="443.5" cy="315" rx="1.6" ry="1" stroke-width="0.8" fill="#fff"/>
<path d="M198.4 296.6L197.2 298.3L196 300L194.7 301.6L193.4 303.3L192 304.8L190.6 306.4L189.1 307.9L187.5 309.4L185.9 310.9L184.3 312.3L182.6 313.6L180.8 315L218 337.4L219.8 336.1L221.6 334.7L223.3 333.4L225 331.9L226.6 330.5L228.2 329L229.7 327.5L231.1 325.9L232.5 324.3L233.9 322.7L235.2 321.1L236.4 319.4Z" stroke-width="1.2" fill="#fff"/>
<path d="M197.2 298.3L235.2 321.1" stroke-width="1"/>
<path d="M196 300L233.9 322.7" stroke-width="1"/>
<path d="M194.7 301.6L232.5 324.3" stroke-width="1"/>
<path d="M193.4 303.3L231.1 325.9" stroke-width="1"/>
<path d="M192 304.8L229.7 327.5" stroke-width="1"/>
<path d="M190.6 306.4L228.2 329" stroke-width="1"/>
<path d="M189.1 307.9L226.6 330.5" stroke-width="1"/>
<path d="M187.5 309.4L225 331.9" stroke-width="1"/>
<path d="M185.9 310.9L223.3 333.4" stroke-width="1"/>
<path d="M184.3 312.3L221.6 334.7" stroke-width="1"/>
<path d="M182.6 313.6L219.8 336.1" stroke-width="1"/>
<path d="M181 316.6L218.4 339L237.4 320.4" stroke-width="1"/>
<path d="M341.6 291.9L340.4 293.6L339.2 295.3L337.9 297L336.6 298.6L335.2 300.1L333.8 301.7L332.3 303.2L330.7 304.7L329.1 306.2L327.5 307.6L325.8 309L324 310.3L361.2 332.7L363 331.4L364.8 330L366.5 328.6L368.2 327.2L369.8 325.8L371.4 324.3L372.9 322.8L374.3 321.2L375.7 319.6L377.1 318L378.4 316.4L379.6 314.7Z" stroke-width="1.2" fill="#fff"/>
<path d="M340.4 293.6L378.4 316.4" stroke-width="1"/>
<path d="M339.2 295.3L377.1 318" stroke-width="1"/>
<path d="M337.9 297L375.7 319.6" stroke-width="1"/>
<path d="M336.6 298.6L374.3 321.2" stroke-width="1"/>
<path d="M335.2 300.1L372.9 322.8" stroke-width="1"/>
<path d="M333.8 301.7L371.4 324.3" stroke-width="1"/>
<path d="M332.3 303.2L369.8 325.8" stroke-width="1"/>
<path d="M330.7 304.7L368.2 327.2" stroke-width="1"/>
<path d="M329.1 306.2L366.5 328.6" stroke-width="1"/>
<path d="M327.5 307.6L364.8 330" stroke-width="1"/>
<path d="M325.8 309L363 331.4" stroke-width="1"/>
<path d="M324.2 311.9L361.6 334.3L380.6 315.7" stroke-width="1"/>
<path d="M252 448.6L240.5 454.8" stroke-width="5.4" stroke-linecap="round" stroke-linejoin="round"/>
<path d="M252 448.6L240.5 454.8" stroke="#fff" stroke-width="3.2" stroke-linecap="round" stroke-linejoin="round"/>
<path d="M306.5 389L321.3 395.4" stroke-width="5.8" stroke-linecap="round" stroke-linejoin="round"/>
<path d="M306.5 389L321.3 395.4" stroke="#fff" stroke-width="3.6" stroke-linecap="round" stroke-linejoin="round"/>
<path d="M294 388C294.8 387.7 297.3 386.4 299 386C300.7 385.6 302.4 385.3 304 385.6C305.6 385.9 307.5 387.2 308.5 388C309.5 388.8 309.8 390.1 310 390.5" stroke-width="8.6" stroke-linecap="round" stroke-linejoin="round"/>
<path d="M294 388C294.8 387.7 297.3 386.4 299 386C300.7 385.6 302.4 385.3 304 385.6C305.6 385.9 307.5 387.2 308.5 388C309.5 388.8 309.8 390.1 310 390.5" stroke="#fff" stroke-width="6.4" stroke-linecap="round" stroke-linejoin="round"/>
<path d="M251.5 448.8C252.7 447.6 256.3 444.5 258.6 441.6C260.9 438.8 263.6 435.2 265.2 431.7C266.8 428.2 267.1 424.2 268 420.7C268.9 417.2 269 414.3 270.7 410.8C272.4 407.3 275.3 403.2 278.4 399.8C281.5 396.4 286.3 392.7 289.4 390.5C292.5 388.3 295.7 387.4 297 386.8" stroke-width="9" stroke-linecap="butt" stroke-linejoin="round"/>
<path d="M251.5 448.8C252.7 447.6 256.3 444.5 258.6 441.6C260.9 438.8 263.6 435.2 265.2 431.7C266.8 428.2 267.1 424.2 268 420.7C268.9 417.2 269 414.3 270.7 410.8C272.4 407.3 275.3 403.2 278.4 399.8C281.5 396.4 286.3 392.7 289.4 390.5C292.5 388.3 295.7 387.4 297 386.8" stroke="#fff" stroke-width="6.8" stroke-linecap="butt" stroke-linejoin="round"/>
<path d="M251.5 448.8C252.7 447.6 256.3 444.5 258.6 441.6C260.9 438.8 263.6 435.2 265.2 431.7C266.8 428.2 267.1 424.2 268 420.7C268.9 417.2 269 414.3 270.7 410.8C272.4 407.3 275.3 403.2 278.4 399.8C281.5 396.4 286.3 392.7 289.4 390.5C292.5 388.3 295.7 387.4 297 386.8" stroke="#444" stroke-width="4.4"/>
<path d="M251.5 448.8C252.7 447.6 256.3 444.5 258.6 441.6C260.9 438.8 263.6 435.2 265.2 431.7C266.8 428.2 267.1 424.2 268 420.7C268.9 417.2 269 414.3 270.7 410.8C272.4 407.3 275.3 403.2 278.4 399.8C281.5 396.4 286.3 392.7 289.4 390.5C292.5 388.3 295.7 387.4 297 386.8" stroke="#fff" stroke-width="3"/>
<ellipse cx="327.5" cy="399.5" rx="1.9" ry="4" stroke-width="2" fill="#333" transform="rotate(25 327.5 399.5)"/>
<ellipse cx="327.5" cy="399.5" rx="1.9" ry="4" stroke="#fff" stroke-width="0.6" stroke-dasharray="0.5 1.2" transform="rotate(25 327.5 399.5)"/>
<ellipse cx="236" cy="458.7" rx="2.3" ry="4.4" stroke-width="2.2" fill="#333" transform="rotate(-60 236 458.7)"/>
<ellipse cx="236" cy="458.7" rx="2.3" ry="4.4" stroke="#fff" stroke-width="0.7" stroke-dasharray="0.5 1.2" transform="rotate(-60 236 458.7)"/>
<path d="M216 473L230.5 463.8" stroke-width="3.2" stroke-linecap="round" stroke-linejoin="round"/>
<path d="M216 473L230.5 463.8" stroke="#fff" stroke-width="1.2" stroke-linecap="round" stroke-linejoin="round"/>
<path d="M223.5 465L233 472.5" stroke-width="3.2" stroke-linecap="round" stroke-linejoin="round"/>
<path d="M223.5 465L233 472.5" stroke="#fff" stroke-width="1.2" stroke-linecap="round" stroke-linejoin="round"/>
<ellipse cx="211.5" cy="477" rx="2.3" ry="4.6" stroke-width="2.2" fill="#333" transform="rotate(-60 211.5 477)"/>
<ellipse cx="211.5" cy="477" rx="2.3" ry="4.6" stroke="#fff" stroke-width="0.7" stroke-dasharray="0.5 1.2" transform="rotate(-60 211.5 477)"/>
<path d="M243.5 479L272 493.5" stroke-width="6" stroke-linecap="round" stroke-linejoin="round"/>
<path d="M243.5 479L272 493.5" stroke="#fff" stroke-width="3.8" stroke-linecap="round" stroke-linejoin="round"/>
<ellipse cx="239" cy="476.5" rx="2.4" ry="5" stroke-width="2.4" fill="#333" transform="rotate(28 239 476.5)"/>
<ellipse cx="239" cy="476.5" rx="2.4" ry="5" stroke="#fff" stroke-width="0.7" stroke-dasharray="0.5 1.2" transform="rotate(28 239 476.5)"/>
<ellipse cx="275.5" cy="496.5" rx="2.4" ry="5" stroke-width="2.4" fill="#333" transform="rotate(28 275.5 496.5)"/>
<ellipse cx="275.5" cy="496.5" rx="2.4" ry="5" stroke="#fff" stroke-width="0.7" stroke-dasharray="0.5 1.2" transform="rotate(28 275.5 496.5)"/>
<path d="M198 486L204.5 482.5" stroke-width="5" stroke-linecap="round" stroke-linejoin="round"/>
<path d="M198 486L204.5 482.5" stroke="#fff" stroke-width="2.8" stroke-linecap="round" stroke-linejoin="round"/>
<path d="M158 570C159.7 570.8 164.3 573 168 574.5C171.7 576 178 578.2 180 579" stroke-width="5.4" stroke-linecap="round" stroke-linejoin="round"/>
<path d="M158 570C159.7 570.8 164.3 573 168 574.5C171.7 576 178 578.2 180 579" stroke="#fff" stroke-width="3.2" stroke-linecap="round" stroke-linejoin="round"/>
<path d="M200.5 485.5C199.1 486.2 195.1 487.9 192 490C188.9 492.1 184.9 495.2 182 498C179.1 500.8 176.4 503.7 174.5 506.5C172.6 509.3 171.1 512.2 170.5 515C169.9 517.8 171.1 520.2 171 523C170.9 525.8 170.9 528.8 170 532C169.1 535.2 167.5 538.6 165.5 542C163.5 545.4 159.8 549.3 158 552.5C156.2 555.7 154.8 558.4 154.5 561C154.2 563.6 155.3 566.2 156.5 568C157.7 569.8 160.7 570.9 161.5 571.5" stroke-width="9.4" stroke-linecap="butt" stroke-linejoin="round"/>
<path d="M200.5 485.5C199.1 486.2 195.1 487.9 192 490C188.9 492.1 184.9 495.2 182 498C179.1 500.8 176.4 503.7 174.5 506.5C172.6 509.3 171.1 512.2 170.5 515C169.9 517.8 171.1 520.2 171 523C170.9 525.8 170.9 528.8 170 532C169.1 535.2 167.5 538.6 165.5 542C163.5 545.4 159.8 549.3 158 552.5C156.2 555.7 154.8 558.4 154.5 561C154.2 563.6 155.3 566.2 156.5 568C157.7 569.8 160.7 570.9 161.5 571.5" stroke="#fff" stroke-width="7.2" stroke-linecap="butt" stroke-linejoin="round"/>
<path d="M200.5 485.5C199.1 486.2 195.1 487.9 192 490C188.9 492.1 184.9 495.2 182 498C179.1 500.8 176.4 503.7 174.5 506.5C172.6 509.3 171.1 512.2 170.5 515C169.9 517.8 171.1 520.2 171 523C170.9 525.8 170.9 528.8 170 532C169.1 535.2 167.5 538.6 165.5 542C163.5 545.4 159.8 549.3 158 552.5C156.2 555.7 154.8 558.4 154.5 561C154.2 563.6 155.3 566.2 156.5 568C157.7 569.8 160.7 570.9 161.5 571.5" stroke="#444" stroke-width="4.8"/>
<path d="M200.5 485.5C199.1 486.2 195.1 487.9 192 490C188.9 492.1 184.9 495.2 182 498C179.1 500.8 176.4 503.7 174.5 506.5C172.6 509.3 171.1 512.2 170.5 515C169.9 517.8 171.1 520.2 171 523C170.9 525.8 170.9 528.8 170 532C169.1 535.2 167.5 538.6 165.5 542C163.5 545.4 159.8 549.3 158 552.5C156.2 555.7 154.8 558.4 154.5 561C154.2 563.6 155.3 566.2 156.5 568C157.7 569.8 160.7 570.9 161.5 571.5" stroke="#fff" stroke-width="3.4"/>
<path d="M166.5 521.5L175.5 523.5" stroke-width="1"/>
<ellipse cx="184.5" cy="581" rx="2.4" ry="4.8" stroke-width="2.2" fill="#333" transform="rotate(25 184.5 581)"/>
<ellipse cx="184.5" cy="581" rx="2.4" ry="4.8" stroke="#fff" stroke-width="0.7" stroke-dasharray="0.5 1.2" transform="rotate(25 184.5 581)"/>
<ellipse cx="349.5" cy="378" rx="2.3" ry="1.4" stroke-width="1.1" fill="#fff"/>
<path d="M349.5 379.4L349.5 384.5" stroke-width="2"/>
<ellipse cx="360.5" cy="375" rx="2.3" ry="1.4" stroke-width="1.1" fill="#fff"/>
<path d="M360.5 376.4L360.5 381.5" stroke-width="2"/>
<ellipse cx="368" cy="383" rx="2.3" ry="1.4" stroke-width="1.1" fill="#fff"/>
<path d="M368 384.4L368 389.5" stroke-width="2"/>
<ellipse cx="345.5" cy="386.5" rx="2.3" ry="1.4" stroke-width="1.1" fill="#fff"/>
<path d="M345.5 387.9L345.5 393" stroke-width="2"/>
<ellipse cx="353" cy="393" rx="2.3" ry="1.4" stroke-width="1.1" fill="#fff"/>
<path d="M353 394.4L353 399.5" stroke-width="2"/>
<ellipse cx="363" cy="393" rx="2.3" ry="1.4" stroke-width="1.1" fill="#fff"/>
<path d="M363 394.4L363 399.5" stroke-width="2"/>
<ellipse cx="292.5" cy="480" rx="2.3" ry="1.4" stroke-width="1.1" fill="#fff"/>
<path d="M292.5 481.4L292.5 486.5" stroke-width="2"/>
<ellipse cx="304" cy="478" rx="2.3" ry="1.4" stroke-width="1.1" fill="#fff"/>
<path d="M304 479.4L304 484.5" stroke-width="2"/>
<ellipse cx="311" cy="485" rx="2.3" ry="1.4" stroke-width="1.1" fill="#fff"/>
<path d="M311 486.4L311 491.5" stroke-width="2"/>
<ellipse cx="289" cy="490" rx="2.3" ry="1.4" stroke-width="1.1" fill="#fff"/>
<path d="M289 491.4L289 496.5" stroke-width="2"/>
<ellipse cx="296" cy="498" rx="2.3" ry="1.4" stroke-width="1.1" fill="#fff"/>
<path d="M296 499.4L296 504.5" stroke-width="2"/>
<ellipse cx="306" cy="496.5" rx="2.3" ry="1.4" stroke-width="1.1" fill="#fff"/>
<path d="M306 497.9L306 503" stroke-width="2"/>
<ellipse cx="206" cy="571" rx="2.3" ry="1.4" stroke-width="1.1" fill="#fff"/>
<path d="M206 572.4L206 577.5" stroke-width="2"/>
<ellipse cx="216" cy="569" rx="2.3" ry="1.4" stroke-width="1.1" fill="#fff"/>
<path d="M216 570.4L216 575.5" stroke-width="2"/>
<ellipse cx="224" cy="576.5" rx="2.3" ry="1.4" stroke-width="1.1" fill="#fff"/>
<path d="M224 577.9L224 583" stroke-width="2"/>
<ellipse cx="201" cy="579.5" rx="2.3" ry="1.4" stroke-width="1.1" fill="#fff"/>
<path d="M201 580.9L201 586" stroke-width="2"/>
<ellipse cx="209" cy="586.5" rx="2.3" ry="1.4" stroke-width="1.1" fill="#fff"/>
<path d="M209 587.9L209 593" stroke-width="2"/>
<ellipse cx="219.5" cy="585" rx="2.3" ry="1.4" stroke-width="1.1" fill="#fff"/>
<path d="M219.5 586.4L219.5 591.5" stroke-width="2"/>
<path d="M336.9 415L336.9 419.2A18.6 9.6 0 0 0 374.1 419.2L374.1 415" stroke-width="1.5" fill="#fff"/>
<ellipse cx="355.5" cy="415" rx="18.6" ry="9.6" stroke-width="1.5" fill="#fff"/>
<ellipse cx="355.5" cy="415" rx="11.5" ry="5.8" stroke-width="1.5"/>
<ellipse cx="369.9" cy="417" rx="1.2" ry="0.9" stroke-width="0.9"/>
<ellipse cx="359.4" cy="422.4" rx="1.2" ry="0.9" stroke-width="0.9"/>
<ellipse cx="345" cy="420.4" rx="1.2" ry="0.9" stroke-width="0.9"/>
<ellipse cx="341.1" cy="413" rx="1.2" ry="0.9" stroke-width="0.9"/>
<ellipse cx="351.6" cy="407.6" rx="1.2" ry="0.9" stroke-width="0.9"/>
<ellipse cx="366" cy="409.6" rx="1.2" ry="0.9" stroke-width="0.9"/>
<ellipse cx="355.5" cy="415" rx="11.5" ry="5.8" stroke-width="2"/>
<ellipse cx="355.5" cy="414.5" rx="5" ry="2.6" stroke-width="1.1"/>
<ellipse cx="355.5" cy="414.5" rx="1.8" ry="1" stroke-width="1" fill="#000"/>
<path d="M346.5 410.8L355.5 414.5" stroke-width="2.2"/>
<path d="M191.4 608.5L191.4 612.7A18.6 9.6 0 0 0 228.6 612.7L228.6 608.5" stroke-width="1.5" fill="#fff"/>
<ellipse cx="210" cy="608.5" rx="18.6" ry="9.6" stroke-width="1.5" fill="#fff"/>
<ellipse cx="210" cy="608.5" rx="11.5" ry="5.8" stroke-width="1.5"/>
<ellipse cx="224.4" cy="610.5" rx="1.2" ry="0.9" stroke-width="0.9"/>
<ellipse cx="213.9" cy="615.9" rx="1.2" ry="0.9" stroke-width="0.9"/>
<ellipse cx="199.5" cy="613.9" rx="1.2" ry="0.9" stroke-width="0.9"/>
<ellipse cx="195.6" cy="606.5" rx="1.2" ry="0.9" stroke-width="0.9"/>
<ellipse cx="206.1" cy="601.1" rx="1.2" ry="0.9" stroke-width="0.9"/>
<ellipse cx="220.5" cy="603.1" rx="1.2" ry="0.9" stroke-width="0.9"/>
<ellipse cx="210" cy="608.5" rx="11.5" ry="5.8" stroke-width="2"/>
<ellipse cx="210" cy="608" rx="5" ry="2.6" stroke-width="1.1"/>
<ellipse cx="210" cy="608" rx="1.8" ry="1" stroke-width="1" fill="#000"/>
<path d="M201 604.3L210 608" stroke-width="2.2"/>
<ellipse cx="355.5" cy="442.5" rx="16.8" ry="9.6" stroke-width="1.7" fill="#fff"/>
<ellipse cx="355.5" cy="442.5" rx="10" ry="5.6" stroke-width="1.7"/>
<ellipse cx="368.4" cy="444.5" rx="1.2" ry="0.9" stroke-width="0.9"/>
<ellipse cx="359" cy="449.9" rx="1.2" ry="0.9" stroke-width="0.9"/>
<ellipse cx="346" cy="447.9" rx="1.2" ry="0.9" stroke-width="0.9"/>
<ellipse cx="342.6" cy="440.5" rx="1.2" ry="0.9" stroke-width="0.9"/>
<ellipse cx="352" cy="435.1" rx="1.2" ry="0.9" stroke-width="0.9"/>
<ellipse cx="365" cy="437.1" rx="1.2" ry="0.9" stroke-width="0.9"/>
<ellipse cx="210" cy="634.5" rx="16.8" ry="9.8" stroke-width="1.7" fill="#fff"/>
<ellipse cx="210" cy="634.5" rx="10" ry="5.6" stroke-width="1.7"/>
<ellipse cx="222.9" cy="636.5" rx="1.2" ry="0.9" stroke-width="0.9"/>
<ellipse cx="213.5" cy="642.1" rx="1.2" ry="0.9" stroke-width="0.9"/>
<ellipse cx="200.5" cy="640" rx="1.2" ry="0.9" stroke-width="0.9"/>
<ellipse cx="197.1" cy="632.5" rx="1.2" ry="0.9" stroke-width="0.9"/>
<ellipse cx="206.5" cy="626.9" rx="1.2" ry="0.9" stroke-width="0.9"/>
<ellipse cx="219.5" cy="629" rx="1.2" ry="0.9" stroke-width="0.9"/>
<path d="M278.9 518.5L278.9 521.7A19.6 10.6 0 0 0 318.1 521.7L318.1 518.5" stroke-width="1.3" fill="#fff"/>
<ellipse cx="298.5" cy="518.5" rx="19.6" ry="10.6" stroke-width="1.3" fill="#fff"/>
<ellipse cx="310.2" cy="523.8" rx="1.2" ry="0.9" stroke-width="0.9"/>
<ellipse cx="295.8" cy="526.6" rx="1.2" ry="0.9" stroke-width="0.9"/>
<ellipse cx="284.1" cy="521.3" rx="1.2" ry="0.9" stroke-width="0.9"/>
<ellipse cx="286.8" cy="513.2" rx="1.2" ry="0.9" stroke-width="0.9"/>
<ellipse cx="301.2" cy="510.4" rx="1.2" ry="0.9" stroke-width="0.9"/>
<ellipse cx="312.9" cy="515.7" rx="1.2" ry="0.9" stroke-width="0.9"/>
<ellipse cx="298.5" cy="519.5" rx="6.3" ry="3.6" stroke-width="1.2"/>
<path d="M292.2 519.5L292.2 517A6.3 3.6 0 0 1 304.8 517L304.8 519.5" stroke-width="1.2" fill="#fff"/>
<ellipse cx="298.5" cy="517" rx="6.3" ry="3.6" stroke-width="1.2" fill="#fff"/>
<path d="M283.5 511L292.5 516.5" stroke-width="1.2"/>
<path d="M282 512.5L292 518.5" stroke-width="1.2"/>
<path d="M304.5 520L315 526" stroke-width="1.2"/>
<path d="M303.5 521.5L313.5 527.5" stroke-width="1.2"/>
<ellipse cx="297.5" cy="571" rx="22.3" ry="13" stroke-width="1.7" fill="#fff"/>
<ellipse cx="297.5" cy="571" rx="12.5" ry="7" stroke-width="1.7"/>
<ellipse cx="313.6" cy="574.8" rx="1.2" ry="0.9" stroke-width="0.9"/>
<ellipse cx="304.3" cy="580.3" rx="1.2" ry="0.9" stroke-width="0.9"/>
<ellipse cx="291" cy="580.4" rx="1.2" ry="0.9" stroke-width="0.9"/>
<ellipse cx="281.5" cy="575" rx="1.2" ry="0.9" stroke-width="0.9"/>
<ellipse cx="281.4" cy="567.2" rx="1.2" ry="0.9" stroke-width="0.9"/>
<ellipse cx="290.7" cy="561.7" rx="1.2" ry="0.9" stroke-width="0.9"/>
<ellipse cx="304" cy="561.6" rx="1.2" ry="0.9" stroke-width="0.9"/>
<ellipse cx="313.5" cy="567" rx="1.2" ry="0.9" stroke-width="0.9"/>
<path d="M334 536.5C335.2 537.1 338.5 538.8 341 540C343.5 541.2 346.2 542.7 349 543.5C351.8 544.3 354.2 544.8 358 545C361.8 545.2 366.6 544.8 372 544.5C377.4 544.2 387.4 543.2 390.5 543" stroke-width="8" stroke-linecap="round" stroke-linejoin="round"/>
<path d="M334 536.5C335.2 537.1 338.5 538.8 341 540C343.5 541.2 346.2 542.7 349 543.5C351.8 544.3 354.2 544.8 358 545C361.8 545.2 366.6 544.8 372 544.5C377.4 544.2 387.4 543.2 390.5 543" stroke="#fff" stroke-width="5.6" stroke-linecap="round" stroke-linejoin="round"/>
<path d="M350 543.8C351.3 544 354.3 544.9 358 545C361.7 545.1 367.2 544.8 372 544.5C376.8 544.2 384.5 543.4 387 543.2" stroke-width="4.6" stroke="#999"/>
<path d="M350 543.8C351.3 544 354.3 544.9 358 545C361.7 545.1 367.2 544.8 372 544.5C376.8 544.2 384.5 543.4 387 543.2" stroke-width="2.6" stroke="#fff"/>
<ellipse cx="329" cy="532" rx="2" ry="4.2" stroke-width="2" fill="#333" transform="rotate(28 329 532)"/>
<ellipse cx="329" cy="532" rx="2" ry="4.2" stroke="#fff" stroke-width="0.6" stroke-dasharray="0.5 1.2" transform="rotate(28 329 532)"/>
<path d="M391 544L395.5 545.5" stroke-width="1.2"/>
<ellipse cx="564" cy="289" rx="3.1" ry="2.5" stroke-width="1.2" fill="#555"/>
<path d="M564.3 291L564.5 295.2" stroke-width="2.4"/>
<ellipse cx="578" cy="281.5" rx="3.1" ry="2.5" stroke-width="1.2" fill="#555"/>
<path d="M578.3 283.5L578.5 287.7" stroke-width="2.4"/>
<ellipse cx="600" cy="281" rx="3.1" ry="2.5" stroke-width="1.2" fill="#555"/>
<path d="M600.3 283L600.5 287.2" stroke-width="2.4"/>
<ellipse cx="616" cy="288.5" rx="3.1" ry="2.5" stroke-width="1.2" fill="#555"/>
<path d="M616.3 290.5L616.5 294.7" stroke-width="2.4"/>
<ellipse cx="617" cy="300" rx="3.1" ry="2.5" stroke-width="1.2" fill="#555"/>
<path d="M617.3 302L617.5 306.2" stroke-width="2.4"/>
<ellipse cx="602.5" cy="308.5" rx="3.1" ry="2.5" stroke-width="1.2" fill="#555"/>
<path d="M602.8 310.5L603 314.7" stroke-width="2.4"/>
<ellipse cx="581" cy="309" rx="3.1" ry="2.5" stroke-width="1.2" fill="#555"/>
<path d="M581.3 311L581.5 315.2" stroke-width="2.4"/>
<ellipse cx="565" cy="301.5" rx="3.1" ry="2.5" stroke-width="1.2" fill="#555"/>
<path d="M565.3 303.5L565.5 307.7" stroke-width="2.4"/>
<ellipse cx="590.5" cy="344" rx="33.4" ry="17.7" stroke-width="1.5" fill="#fff"/>
<ellipse cx="590.5" cy="343" rx="27" ry="13.6" stroke-width="1.2"/>
<path d="M563.5 343L563.5 345.3A27 13.6 0 0 0 617.5 345.3L617.5 343" stroke-width="1.2"/>
<ellipse cx="590" cy="340.5" rx="18.5" ry="8.6" stroke-width="1.4"/>
<ellipse cx="590" cy="341.3" rx="17" ry="7.6" stroke-width="0.8"/>
<ellipse cx="620.2" cy="346.7" rx="1.1" ry="0.9" stroke-width="0.9" fill="#000"/>
<ellipse cx="607.8" cy="356.8" rx="1.1" ry="0.9" stroke-width="0.9" fill="#000"/>
<ellipse cx="585.3" cy="359.4" rx="1.1" ry="0.9" stroke-width="0.9" fill="#000"/>
<ellipse cx="565.8" cy="352.9" rx="1.1" ry="0.9" stroke-width="0.9" fill="#000"/>
<ellipse cx="560.8" cy="341.3" rx="1.1" ry="0.9" stroke-width="0.9" fill="#000"/>
<ellipse cx="573.2" cy="331.2" rx="1.1" ry="0.9" stroke-width="0.9" fill="#000"/>
<ellipse cx="595.7" cy="328.6" rx="1.1" ry="0.9" stroke-width="0.9" fill="#000"/>
<ellipse cx="615.2" cy="335.1" rx="1.1" ry="0.9" stroke-width="0.9" fill="#000"/>
<ellipse cx="572" cy="342" rx="1.3" ry="1" stroke-width="0.9"/>
<path d="M569 395L569 492C569 500 580 505 589.8 505C599.5 505 610.6 500 610.6 492L610.6 395" stroke-width="1.4" fill="#fff"/>
<path d="M587.5 505L588 508.5L591 508.5L591.5 505" stroke-width="1.1" fill="#444"/>
<path d="M567.3 391.2L567.3 394A23.3 12.4 0 0 0 613.9 394L613.9 391.2" stroke-width="1.3" fill="#fff"/>
<ellipse cx="590.6" cy="391.2" rx="23.3" ry="12.4" stroke-width="1.5" fill="#fff"/>
<ellipse cx="575" cy="389" rx="1.5" ry="1.3" stroke-width="1" fill="#000"/>
<path d="M584 389L585 383.5L586.5 383.5L587.5 389Z" stroke-width="1.4" fill="#222"/>
<path d="M594.7 380.5L594.2 389.5" stroke-width="3.4"/>
<path d="M594.5 382L594.3 388" stroke-width="0.8" stroke="#fff"/>
<path d="M596 381.5C599 379 604 377.8 608.5 377.6" stroke-width="3"/>
<ellipse cx="604.5" cy="379.2" rx="4" ry="1.4" stroke-width="1.2" fill="#fff" transform="rotate(-18 604.5 379.2)"/>
<path d="M589.6 393.6L595.6 392.4L595.6 399L589.6 400.4Z" stroke-width="1.4" fill="#333"/>
<path d="M596.6 390.4L602.6 389.4L602.6 395.6L596.6 396.8Z" stroke-width="1.4" fill="#333"/>
<path d="M592.5 394L592.5 399M599.5 391L599.5 396" stroke-width="1.4" stroke="#fff"/>
<path d="M589.8 505L589.8 508" stroke-width="1"/>
<ellipse cx="589" cy="533" rx="23.2" ry="12.3" stroke-width="3"/>
<ellipse cx="589" cy="533" rx="20.6" ry="10.2" stroke-width="0.9"/>
<ellipse cx="466" cy="370.5" rx="1.9" ry="1.5" stroke-width="1.2" fill="#333"/>
<path d="M466 371.7L466 379.5" stroke-width="2"/>
<ellipse cx="474.5" cy="367" rx="1.9" ry="1.5" stroke-width="1.2" fill="#333"/>
<path d="M474.5 368.2L474.5 376" stroke-width="2"/>
<ellipse cx="471" cy="378.5" rx="1.9" ry="1.5" stroke-width="1.2" fill="#333"/>
<path d="M471 379.7L471 387.5" stroke-width="2"/>
<ellipse cx="482.5" cy="377.5" rx="1.9" ry="1.5" stroke-width="1.2" fill="#333"/>
<path d="M482.5 378.7L482.5 386.5" stroke-width="2"/>
<ellipse cx="485.5" cy="369" rx="1.9" ry="1.5" stroke-width="1.2" fill="#333"/>
<path d="M485.5 370.2L485.5 378" stroke-width="2"/>
<path d="M534.5 403L458.7 403L458.7 532.5L495 532.5L534.5 494L534.5 403" stroke-width="1.2" stroke-dasharray="7 3.2"/>
<ellipse cx="475.7" cy="449" rx="13.5" ry="6.7" stroke-width="1.3" fill="#fff"/>
<ellipse cx="475.7" cy="449" rx="7.4" ry="3.6" stroke-width="1.2"/>
<path d="M470.4 432L470.4 532.5L478.8 532.5L478.8 432Z" stroke-width="1.1" fill="#fff"/>
<path d="M474.6 438L474.6 494" stroke-width="0.8"/>
<path d="M470.8 496L478.4 496" stroke-width="0.7"/>
<path d="M470.8 498L478.4 498" stroke-width="0.7"/>
<path d="M470.8 500L478.4 500" stroke-width="0.7"/>
<path d="M470.8 502L478.4 502" stroke-width="0.7"/>
<path d="M470.8 504L478.4 504" stroke-width="0.7"/>
<path d="M470.8 506L478.4 506" stroke-width="0.7"/>
<path d="M470.8 508L478.4 508" stroke-width="0.7"/>
<path d="M470.8 510L478.4 510" stroke-width="0.7"/>
<path d="M470.8 512L478.4 512" stroke-width="0.7"/>
<path d="M470.8 514L478.4 514" stroke-width="0.7"/>
<path d="M470.8 516L478.4 516" stroke-width="0.7"/>
<path d="M470.8 518L478.4 518" stroke-width="0.7"/>
<path d="M470.8 520L478.4 520" stroke-width="0.7"/>
<path d="M470.8 522L478.4 522" stroke-width="0.7"/>
<path d="M470.8 524L478.4 524" stroke-width="0.7"/>
<path d="M470.8 526L478.4 526" stroke-width="0.7"/>
<path d="M470.8 528L478.4 528" stroke-width="0.7"/>
<path d="M470.8 530L478.4 530" stroke-width="0.7"/>
<ellipse cx="475.7" cy="449" rx="13.5" ry="6.7" stroke-width="1.3"/>
<path d="M468.3 449A7.4 3.6 0 0 0 483.1 449" stroke-width="1.2"/>
<path d="M462.4 423L462.4 429.4A12.8 6.7 0 0 0 488 429.4L488 423" stroke-width="1.3" fill="#fff"/>
<ellipse cx="475.2" cy="423" rx="12.8" ry="6.7" stroke-width="1.4" fill="#fff"/>
<ellipse cx="483.1" cy="425.8" rx="0.9" ry="0.7" stroke-width="0.8" fill="#000"/>
<ellipse cx="466.9" cy="425.4" rx="0.9" ry="0.7" stroke-width="0.8" fill="#000"/>
<ellipse cx="467.3" cy="420.2" rx="0.9" ry="0.7" stroke-width="0.8" fill="#000"/>
<ellipse cx="482.6" cy="419.9" rx="0.9" ry="0.7" stroke-width="0.8" fill="#000"/>
<path d="M471.2 404L471.2 428" stroke-width="0.8"/>
<path d="M488 424C496 425 503 427.5 511 429" stroke-width="3.8"/>
<path d="M488 424C496 425 503 427.5 511 429" stroke-width="1.2" stroke="#fff" stroke-dasharray="1.2 1.6"/>
<path d="M510.8 424.5L519.8 426.5L519.8 435L510.8 433Z" stroke-width="1.2" fill="#333"/>
<path d="M519.8 427.5L528.8 430L528.5 436.5L519.8 434.5Z" stroke-width="1.2" fill="#888"/>
<path d="M478.8 494L491 502.5L491 632" stroke-width="0.9"/>
<path d="M663 364.8L745 357.5" stroke-width="7" stroke-linecap="butt" stroke-linejoin="round"/>
<path d="M663 364.8L745 357.5" stroke="#fff" stroke-width="4.6" stroke-linecap="butt" stroke-linejoin="round"/>
<ellipse cx="745" cy="357.5" rx="1.3" ry="3.4" stroke-width="1.1" fill="#fff" transform="rotate(-5 745 357.5)"/>
<path d="M666 361.2C660 361 658.8 368 664.8 368.6" stroke-width="1.2" fill="#fff"/>
<ellipse cx="665.5" cy="364.9" rx="2.6" ry="3.6" stroke-width="1.1" fill="#fff"/>
<ellipse cx="703.8" cy="360" rx="8" ry="13.4" stroke-width="1.4" fill="#fff"/>
<ellipse cx="702.8" cy="360.3" rx="6" ry="10.6" stroke-width="1.1"/>
<ellipse cx="702.2" cy="360.6" rx="3.2" ry="5.6" stroke-width="1" fill="#fff"/>
<path d="M702.5 357.8L663 361.3" stroke-width="0"/>
<path d="M690 362.4L701.5 361.4" stroke-width="7" stroke-linecap="butt" stroke-linejoin="round"/>
<path d="M690 362.4L701.5 361.4" stroke="#fff" stroke-width="4.6" stroke-linecap="butt" stroke-linejoin="round"/>
<ellipse cx="643" cy="344.5" rx="1.6" ry="1.2" stroke-width="1" fill="#444"/>
<path d="M643 345.5L643 349" stroke-width="1.3"/>
<path d="M642.8 349L640.5 363" stroke-width="0.8" stroke-dasharray="2 1.2"/>
<ellipse cx="637.8" cy="366.5" rx="3.2" ry="2.8" stroke-width="2" fill="#888" transform="rotate(20 637.8 366.5)"/>
<path d="M640 368.5L646.5 372.5" stroke-width="3"/>
<ellipse cx="646" cy="372" rx="1.5" ry="1.2" stroke-width="1" fill="#fff"/>
<path d="M860 457L860 473A4.8 1.6 0 0 0 869.5 473L869.5 457" stroke-width="1.3" fill="#fff"/>
<path d="M874 445.5C879 440 890 438.3 896 441C900 443 901.8 447 901.8 452.5C901.8 458 900 463 896 465C890 467.8 879 466 874 460.5Z" stroke-width="1.5" fill="#fff"/>
<path d="M878 442C875.5 448 875.5 458 878 464" stroke-width="1.1"/>
<ellipse cx="886.5" cy="452.5" rx="2.6" ry="12.6" stroke-width="2" fill="#fff"/>
<ellipse cx="894.5" cy="452.5" rx="6" ry="11.6" stroke-width="1.4" fill="#fff"/>
<path d="M889.5 452.5L899 453" stroke-width="1"/>
<path d="M899.5 447.8L911 448.4L911 459L899.5 458.4" stroke-width="1.3" fill="#fff"/>
<path d="M905.5 448.2C906.5 451 906.5 456 905.5 458.7" stroke-width="1"/>
<path d="M911 448.4L917.5 444.5M911 459L917.5 469.5" stroke-width="1.3"/>
<path d="M913.5 446.5C915 451 915 462 913.5 463.5" stroke-width="1"/>
<ellipse cx="924" cy="457" rx="8" ry="13.3" stroke-width="1.7" fill="#fff" transform="rotate(5 924 457)"/>
<ellipse cx="924.8" cy="457" rx="5.4" ry="9.6" stroke-width="1.6" transform="rotate(5 924.8 457)"/>
<ellipse cx="925.3" cy="457.2" rx="1.1" ry="1.5" stroke-width="1" fill="#000"/>
<path d="M857 430L857 443L856.5 444L856.5 456.5A8.8 2.6 0 0 0 874 456.5L874 430" stroke-width="1.4" fill="#fff"/>
<ellipse cx="865.5" cy="429.5" rx="8.5" ry="2.7" stroke-width="1.4" fill="#fff"/>
<ellipse cx="865.5" cy="429.6" rx="5.6" ry="1.5" stroke-width="1" fill="#aaa"/>
<path d="M856.5 444A8.8 2.6 0 0 0 866 446.5L874 443" stroke-width="1"/>
<path d="M866 440L866 458.5" stroke-width="1"/>
<path d="M856.7 450A8.8 2.6 0 0 0 874 450" stroke-width="1"/>
<path d="M866 440.5L874 440" stroke-width="1.2"/>
<ellipse cx="866" cy="484.5" rx="9.4" ry="3.7" stroke-width="3" fill="#fff"/>
<path d="M857 487A9.4 3.7 0 0 0 875 487" stroke-width="2.6"/>
<ellipse cx="866" cy="483.6" rx="6.3" ry="2" stroke-width="1"/>
<path d="M864.7 474.5L864.7 575" stroke-width="0.9" stroke-dasharray="6 1.5 1.5 1.5"/>
<path d="M857.8 577L857.8 622L871.2 611L871.2 577" stroke-width="1.3" fill="#fff"/>
<ellipse cx="864.5" cy="577" rx="6.7" ry="2.4" stroke-width="1.6" fill="#ccc"/>
<path d="M776 560L759 569.6L760.4 601.6L792 583.6" stroke-width="1.2"/>
<ellipse cx="782" cy="572" rx="10.3" ry="12.4" stroke-width="1.2" transform="rotate(-20 782 572)"/>
<ellipse cx="782.6" cy="572" rx="8.4" ry="10.6" stroke-width="1" transform="rotate(-20 782.6 572)"/>
<path d="M775 576L788.5 568.5" stroke-width="0.8" stroke-dasharray="3 1.5"/>
<path d="M773 595.3L901.7 837.5" stroke-width="1.2" stroke-dasharray="48 7"/>
<path d="M812.6 541.7L794.6 547.6L786 556L791 571L803.6 577.3L812.6 568.3L823.4 561.1Z" stroke-width="0" fill="#fff"/>
<path d="M812.6 541.7L796 547.2" stroke-width="1.3"/>
<path d="M823.4 561.1L811 569.5" stroke-width="1.3"/>
<path d="M801 549.5C806 551 810 559 809 566.5" stroke-width="1.2"/>
<ellipse cx="798.6" cy="561" rx="6" ry="14.6" stroke-width="1.3" fill="#fff" transform="rotate(-27 798.6 561)"/>
<path d="M792.5 549.5L799.5 546.5M798.5 577.5L805.5 574.5" stroke-width="1.3"/>
<ellipse cx="791.8" cy="563.6" rx="6" ry="14.6" stroke-width="2.6" fill="#fff" transform="rotate(-27 791.8 563.6)"/>
<ellipse cx="792.6" cy="563.4" rx="4.4" ry="12.4" stroke-width="1" transform="rotate(-27 792.6 563.4)"/>
<path d="M790 571C793 575 798 577.5 803 577" stroke-width="2.6"/>
<path d="M794 548.5L800.5 546.5" stroke-width="2.4"/>
<path d="M793 567L803 560" stroke-width="0.9"/>
<ellipse cx="828.5" cy="536.5" rx="14" ry="24.5" stroke-width="1.5" fill="#fff" transform="rotate(12 828.5 536.5)"/>
<ellipse cx="832.5" cy="537" rx="13" ry="23.3" stroke-width="1.2" fill="#fff" transform="rotate(12 832.5 537)"/>
<path d="M820 531L832 527M821 548L832 551" stroke-width="1"/>
<ellipse cx="822" cy="523.5" rx="0.9" ry="0.9" stroke-width="0.8" fill="#000"/>
<ellipse cx="840.5" cy="538.5" rx="12.5" ry="23.5" stroke-width="1.5" fill="#333" transform="rotate(12 840.5 538.5)"/>
<path d="M831 557.2L834.8 557.9" stroke-width="0.9"/>
<path d="M829.6 555.1L833.4 555.8" stroke-width="0.9"/>
<path d="M828.4 552.4L832.2 553.1" stroke-width="0.9"/>
<path d="M827.7 549.2L831.5 549.9" stroke-width="0.9"/>
<path d="M827.3 545.7L831.1 546.4" stroke-width="0.9"/>
<path d="M827.3 541.9L831.1 542.6" stroke-width="0.9"/>
<path d="M827.8 537.9L831.6 538.6" stroke-width="0.9"/>
<path d="M828.6 533.9L832.4 534.6" stroke-width="0.9"/>
<path d="M829.8 530.2L833.6 530.9" stroke-width="0.9"/>
<path d="M831.3 526.6L835.1 527.3" stroke-width="0.9"/>
<path d="M833.1 523.5L836.9 524.2" stroke-width="0.9"/>
<path d="M835.1 520.9L838.9 521.6" stroke-width="0.9"/>
<path d="M837.2 519L841 519.7" stroke-width="0.9"/>
<path d="M839.4 517.7L843.2 518.4" stroke-width="0.9"/>
<path d="M838 522 L842 518" stroke="#fff" stroke-width="0.8"/>
<ellipse cx="845" cy="539" rx="11.8" ry="20.6" stroke-width="1.5" fill="#fff" transform="rotate(12 845 539)"/>
<ellipse cx="846.2" cy="539" rx="10.4" ry="17.8" stroke-width="1.2" fill="#fff" transform="rotate(12 846.2 539)"/>
<path d="M852 521.5C858 526 859.5 540 853.5 552" stroke-width="1.5"/>
<path d="M838.5 557.5L839.5 562.5L847.5 564L850 559.5" stroke-width="1.3" fill="#fff"/>
<path d="M842 562.8L842.5 559.5M845.5 563.5L846 560" stroke-width="1"/>
<path d="M838.5 514C845 508 866 498.5 875 497.8C882 497.5 885 503.5 880.5 507.5C874 512 858 518 850 521C846 522.5 843.5 520 844 517Z" stroke-width="1.5" fill="#fff"/>
<path d="M842.5 516.5C850 511 868 501 875.5 500.5C879 500.5 881 503 878.5 505.5" stroke-width="1.1"/>
<path d="M847 519C855 515.5 870 509 877.5 505.5" stroke-width="1.1"/>
<path d="M848 514.5L848.6 517.1" stroke-width="1"/>
<path d="M851.7 512.8L852.3 515.4" stroke-width="1"/>
<path d="M855.4 511L856 513.6" stroke-width="1"/>
<path d="M859.1 509.2L859.7 511.9" stroke-width="1"/>
<path d="M862.8 507.5L863.4 510.1" stroke-width="1"/>
<path d="M866.5 505.8L867.1 508.4" stroke-width="1"/>
<path d="M870.2 504L870.8 506.6" stroke-width="1"/>
<path d="M873.9 502.2L874.5 504.9" stroke-width="1"/>
<path d="M838.5 514L840 523M844 517.5L846 526" stroke-width="1.2"/>
<path d="M851 520.5L852.5 526" stroke-width="1.1"/>
<ellipse cx="790.7" cy="521.5" rx="2.3" ry="2.2" stroke-width="1.6" fill="#555"/>
<ellipse cx="808.7" cy="517.7" rx="2.3" ry="2.2" stroke-width="1.6" fill="#555"/>
<ellipse cx="800" cy="538.7" rx="2.3" ry="2.2" stroke-width="1.6" fill="#555"/>
<ellipse cx="778.2" cy="544.7" rx="2.3" ry="2.2" stroke-width="1.6" fill="#555"/>
<ellipse cx="797.7" cy="522.2" rx="2.5" ry="2.9" stroke-width="1.3" fill="#fff"/>
<ellipse cx="816.2" cy="518.5" rx="2.5" ry="2.9" stroke-width="1.3" fill="#fff"/>
<ellipse cx="807.2" cy="539.5" rx="2.5" ry="2.9" stroke-width="1.3" fill="#fff"/>
<ellipse cx="785.7" cy="545.8" rx="2.5" ry="2.9" stroke-width="1.3" fill="#fff"/>
<path d="M906 530.5L894.5 529.6" stroke-width="2.3"/>
<ellipse cx="906" cy="530.5" rx="1.8" ry="2.4" stroke-width="1.2" fill="#333"/>
<path d="M888 534.6L876.5 533.6" stroke-width="2.3"/>
<ellipse cx="888" cy="534.6" rx="1.8" ry="2.4" stroke-width="1.2" fill="#333"/>
<path d="M908.2 554.8L896.7 553.6" stroke-width="2.3"/>
<ellipse cx="908.2" cy="554.8" rx="1.8" ry="2.4" stroke-width="1.2" fill="#333"/>
<path d="M886.5 559.6L875 558.4" stroke-width="2.3"/>
<ellipse cx="886.5" cy="559.6" rx="1.8" ry="2.4" stroke-width="1.2" fill="#333"/>
<path d="M800.5 522.6L812 524.2" stroke-width="0.9"/>
<path d="M858 531L876.5 533.6" stroke-width="0.9" stroke-dasharray="6 1.5 1.5 1.5"/>
<path d="M857 524.4L894.5 529.6" stroke-width="0.9" stroke-dasharray="6 1.5 1.5 1.5"/>
<path d="M810 540L816 541" stroke-width="0.9"/>
<path d="M856 548L896.7 553.6" stroke-width="0.9" stroke-dasharray="6 1.5 1.5 1.5"/>
<path d="M788.5 546.2L815 550.2" stroke-width="0.9"/>
<path d="M850 555L875 558.4" stroke-width="0.9" stroke-dasharray="6 1.5 1.5 1.5"/>
<path d="M652.5 648L689 647" stroke-width="0.9"/>
<ellipse cx="669.3" cy="646.8" rx="3.6" ry="14.5" stroke-width="3" fill="#fff"/>
<path d="M665.5 634.8L673.1 634" stroke-width="0.7"/>
<path d="M665.5 636.8L673.1 636" stroke-width="0.7"/>
<path d="M665.5 638.8L673.1 638" stroke-width="0.7"/>
<path d="M665.5 640.8L673.1 640" stroke-width="0.7"/>
<path d="M665.5 642.8L673.1 642" stroke-width="0.7"/>
<path d="M665.5 644.8L673.1 644" stroke-width="0.7"/>
<path d="M665.5 646.8L673.1 646" stroke-width="0.7"/>
<path d="M665.5 648.8L673.1 648" stroke-width="0.7"/>
<path d="M665.5 650.8L673.1 650" stroke-width="0.7"/>
<path d="M665.5 652.8L673.1 652" stroke-width="0.7"/>
<path d="M665.5 654.8L673.1 654" stroke-width="0.7"/>
<path d="M665.5 656.8L673.1 656" stroke-width="0.7"/>
<path d="M665.5 658.8L673.1 658" stroke-width="0.7"/>
<path d="M666.3 655.8L673.3 654.8L673.3 659.8L666.3 660.8Z" stroke-width="1" fill="#222"/>
<ellipse cx="677.3" cy="646.8" rx="3.6" ry="14.5" stroke-width="3" fill="#fff"/>
<path d="M673.5 634.8L681.1 634" stroke-width="0.7"/>
<path d="M673.5 636.8L681.1 636" stroke-width="0.7"/>
<path d="M673.5 638.8L681.1 638" stroke-width="0.7"/>
<path d="M673.5 640.8L681.1 640" stroke-width="0.7"/>
<path d="M673.5 642.8L681.1 642" stroke-width="0.7"/>
<path d="M673.5 644.8L681.1 644" stroke-width="0.7"/>
<path d="M673.5 646.8L681.1 646" stroke-width="0.7"/>
<path d="M673.5 648.8L681.1 648" stroke-width="0.7"/>
<path d="M673.5 650.8L681.1 650" stroke-width="0.7"/>
<path d="M673.5 652.8L681.1 652" stroke-width="0.7"/>
<path d="M673.5 654.8L681.1 654" stroke-width="0.7"/>
<path d="M673.5 656.8L681.1 656" stroke-width="0.7"/>
<path d="M673.5 658.8L681.1 658" stroke-width="0.7"/>
<path d="M674.3 655.8L681.3 654.8L681.3 659.8L674.3 660.8Z" stroke-width="1" fill="#222"/>
<path d="M692 631.2L716.5 626.8A3.8 14.7 0 0 1 717.5 656L693.5 661C686.5 657 686 636 692 631.2Z" stroke-width="1.4" fill="#fff"/>
<ellipse cx="717" cy="641.4" rx="3.8" ry="14.7" stroke-width="1.2" fill="#fff" transform="rotate(-3 717 641.4)"/>
<path d="M862.5 706C863.2 705.2 865.4 702.5 867 701C868.6 699.5 870 698 872 697C874 696 876.7 695.3 879 695.3C881.3 695.3 883.9 695.8 886 697C888.1 698.2 889.9 700.2 891.5 702.5C893.1 704.8 894 707.5 895.5 711C897 714.5 899.9 721.4 900.8 723.5" stroke-width="12.3" stroke-linecap="butt" stroke-linejoin="round"/>
<path d="M862.5 706C863.2 705.2 865.4 702.5 867 701C868.6 699.5 870 698 872 697C874 696 876.7 695.3 879 695.3C881.3 695.3 883.9 695.8 886 697C888.1 698.2 889.9 700.2 891.5 702.5C893.1 704.8 894 707.5 895.5 711C897 714.5 899.9 721.4 900.8 723.5" stroke="#fff" stroke-width="9.7" stroke-linecap="butt" stroke-linejoin="round"/>
<ellipse cx="862.5" cy="706" rx="4" ry="6" stroke-width="1.3" fill="#fff" transform="rotate(-32 862.5 706)"/>
<ellipse cx="863.3" cy="706.6" rx="2.6" ry="4.4" stroke-width="1" transform="rotate(-32 863.3 706.6)"/>
<path d="M869.5 695L874.5 700.5" stroke-width="1"/>
<path d="M886 700.5L893.5 698.5" stroke-width="1" stroke-dasharray="2.5 1.5"/>
<path d="M897 727L899.3 728.3L904.3 717" stroke-width="1.2"/>
<path d="M901.5 724L905 729.5L918.5 716.5" stroke-width="1.1"/>
<ellipse cx="852" cy="712.5" rx="5" ry="6" stroke-width="2.6" fill="#fff" transform="rotate(-25 852 712.5)"/>
<path d="M849.5 709.5L854.5 715.5" stroke-width="1.6"/>
<path d="M846.5 718.5L824.8 734.7" stroke-width="1.2"/>
<path d="M819.8 738.5L825.2 730.7L828.8 735.5Z" fill="#000" stroke="none"/>
<path d="M725 783.5L770 757L771 753L792 742.5L793.5 744L793 749L802 757L804 754L806 751L809.5 751.5L811 754.5L817 751L820 756L827 766L836 773L838 779L835 789L828 794L814 802L751 835.5L741 839L737 841.5L710 833.5L709 831L712.5 822L705 811L703.5 805L704 799.5L707 796L715 792Z" stroke-width="0" fill="#fff"/>
<path d="M769 787C775 793 778.5 800 778 808C777.5 818 771 825 760 831.5L751 835.5" stroke-width="1.6"/>
<path d="M769 787L799 766" stroke-width="1.5"/>
<path d="M751 835.5L814 802L828 794" stroke-width="1.6"/>
<path d="M799 766C808 770 815 780 816 789C816.5 793 816 796 814 799" stroke-width="1.4"/>
<path d="M802.5 763.5C811 767 818.5 775 820.5 783" stroke-width="1.2"/>
<path d="M775 795L751 804.5M773.5 791.5L751 800" stroke-width="1.1"/>
<path d="M802 757L804 754C804.5 751.5 807 750.5 809 751.5L811 754.5L817 751C819 758 823 764 827 766C831 769 835 771 836.5 773C838.5 777 838 782 835 789L828 794" stroke-width="1.5"/>
<path d="M811 754.5C812.5 760 816 768 819 773C820.5 776 820.5 779 820 781L823 782.5L835.5 775" stroke-width="1.2"/>
<path d="M823 782.5L824 779L834 773.5" stroke-width="1"/>
<path d="M768 758L770 753L792 742.5L793.5 744L793 749L789 755L777 757" stroke-width="1.5" fill="#fff"/>
<path d="M770 753L772 755.5L792.5 745.5" stroke-width="1.2"/>
<path d="M768 758L768.5 762L777 757M789 755L797 760" stroke-width="1.2"/>
<path d="M785 750L783 756M789 748.5L788 754" stroke-width="1"/>
<path d="M738 778.5L771 761.5" stroke-width="1.4"/>
<path d="M751 784L797 767" stroke-width="1.3"/>
<path d="M771 761.5L777 757L797 767" stroke-width="1.2"/>
<path d="M751 784C754 787 756.5 789 758 789.5L769 787" stroke-width="1.2"/>
<path d="M743 779.5L768 766" stroke-width="1"/>
<path d="M759 775L774 768L782 771.5L766 780.5Z" stroke-width="1" fill="#111"/>
<path d="M763 775L777 771M768 771.5L771.5 777" stroke-width="1" stroke="#fff"/>
<ellipse cx="798.5" cy="762.8" rx="2.6" ry="1.6" stroke-width="1" fill="#666"/>
<path d="M725 783.5C720 788 712 794 707 796C704.5 797.5 703.5 801 703.5 805C704 810 706.5 815 709 818L712.5 822" stroke-width="1.6"/>
<path d="M705 799.5C708 801.5 711 801.5 713.5 801C718 799 721 794 723 789L725 783.5" stroke-width="1.3"/>
<path d="M721 788C724 783 731 779.5 737 779.5C743 779.5 748 782 751 785" stroke-width="1.5"/>
<path d="M723.5 789.5C727 785.5 732 783 737 783C742 783 746 785 748.5 788" stroke-width="3"/>
<path d="M726 792L746 786.5M729 795L748 790.5" stroke-width="2.6"/>
<path d="M731 790L733 799M739 787L741 797" stroke-width="1.6"/>
<path d="M724 801L735 797.5L735.5 806L724.5 809.5Z" stroke-width="1" fill="#111"/>
<path d="M726 803L733.5 800.5" stroke-width="0.8" stroke="#fff"/>
<ellipse cx="749" cy="816" rx="8" ry="19" stroke-width="2.8" fill="#fff" transform="rotate(-14 749 816)"/>
<ellipse cx="748" cy="816.5" rx="5" ry="14.5" stroke-width="2" transform="rotate(-14 748 816.5)"/>
<path d="M744.5 804L752.5 806.6" stroke-width="2"/>
<path d="M744.9 808.6L752.8 811.2" stroke-width="2"/>
<path d="M745.3 813.2L753.1 815.8" stroke-width="2"/>
<path d="M745.7 817.8L753.4 820.4" stroke-width="2"/>
<path d="M746.1 822.4L753.7 825" stroke-width="2"/>
<path d="M746.5 827L754 829.6" stroke-width="2"/>
<path d="M738 797C744 797 750 801 754 808" stroke-width="1.6"/>
<path d="M736 809C738 815 740 826 739.5 833" stroke-width="1.5"/>
<path d="M741 806C743 814 744 826 742.5 836" stroke-width="1.3"/>
<path d="M719.5 792L719.5 828M722.5 810L722.5 829" stroke-width="1.2"/>
<path d="M733 799L733 836M735.5 809L735.5 836" stroke-width="1.2"/>
<path d="M724 812L733 809.5" stroke-width="1.2"/>
<path d="M709 831L714 815L715.5 815L717.5 825L738 835L735 812L736.5 811L741 838L737 841.5L710 833.5Z" stroke-width="1.6" fill="#fff"/>
<path d="M709 831L737 839.5L741 838" stroke-width="1.3"/>
<path d="M717.5 825L717 829.5" stroke-width="1.1"/>
<ellipse cx="719" cy="832.5" rx="0.9" ry="0.7" stroke-width="0.8" fill="#000"/>
<ellipse cx="733" cy="838" rx="0.9" ry="0.7" stroke-width="0.8" fill="#000"/>
<ellipse cx="798.6" cy="717.6" rx="2.4" ry="1.5" stroke-width="1" fill="#fff"/>
<path d="M796.2 717.6L796.2 720.2L801 720.2L801 717.6" stroke-width="1" fill="#999"/>
<ellipse cx="798.6" cy="717.6" rx="2.4" ry="1.4" stroke-width="1" fill="#fff"/>
<ellipse cx="813" cy="722.3" rx="2.4" ry="1.5" stroke-width="1" fill="#fff"/>
<path d="M810.6 722.3L810.6 724.9L815.4 724.9L815.4 722.3" stroke-width="1" fill="#999"/>
<ellipse cx="813" cy="722.3" rx="2.4" ry="1.4" stroke-width="1" fill="#fff"/>
<ellipse cx="720.6" cy="757" rx="2.4" ry="1.5" stroke-width="1" fill="#fff"/>
<path d="M718.2 757L718.2 759.6L723 759.6L723 757" stroke-width="1" fill="#999"/>
<ellipse cx="720.6" cy="757" rx="2.4" ry="1.4" stroke-width="1" fill="#fff"/>
<ellipse cx="733.6" cy="758.5" rx="2.4" ry="1.5" stroke-width="1" fill="#fff"/>
<path d="M731.2 758.5L731.2 761.1L736 761.1L736 758.5" stroke-width="1" fill="#999"/>
<ellipse cx="733.6" cy="758.5" rx="2.4" ry="1.4" stroke-width="1" fill="#fff"/>
<ellipse cx="799" cy="732.2" rx="3.6" ry="1.7" stroke-width="1" fill="#fff"/>
<ellipse cx="799" cy="732.2" rx="1.6" ry="0.7" stroke-width="0.8"/>
<ellipse cx="813" cy="737" rx="3.6" ry="1.7" stroke-width="1" fill="#fff"/>
<ellipse cx="813" cy="737" rx="1.6" ry="0.7" stroke-width="0.8"/>
<ellipse cx="720" cy="770" rx="3.6" ry="1.7" stroke-width="1" fill="#fff"/>
<ellipse cx="720" cy="770" rx="1.6" ry="0.7" stroke-width="0.8"/>
<ellipse cx="733.6" cy="771.4" rx="3.6" ry="1.7" stroke-width="1" fill="#fff"/>
<ellipse cx="733.6" cy="771.4" rx="1.6" ry="0.7" stroke-width="0.8"/>
<path d="M798.8 721L798.8 731" stroke-width="0.8"/>
<path d="M813 725.5L813 736" stroke-width="0.8"/>
<path d="M798.8 734L798.8 758" stroke-width="0.8"/>
<path d="M813 739L813 752" stroke-width="0.8"/>
<path d="M720.4 760.5L720.4 769" stroke-width="0.8"/>
<path d="M733.6 762L733.6 770" stroke-width="0.8"/>
<path d="M720.4 772L720.4 792" stroke-width="0.8"/>
<path d="M733.6 773.5L733.6 787" stroke-width="0.8"/>
<path d="M720.4 836L720.4 849" stroke-width="0.8"/>
<path d="M733.6 842L733.6 855" stroke-width="0.8"/>
<path d="M799 800L799 820" stroke-width="0.8" stroke-dasharray="8 3"/>
<path d="M812.6 790L812.6 813" stroke-width="0.8" stroke-dasharray="8 3"/>
<path d="M799 821L799 834.5" stroke-width="2.8"/>
<ellipse cx="799" cy="834.8" rx="3" ry="1.8" stroke-width="1.2" fill="#555"/>
<path d="M812.6 814L812.6 828.5" stroke-width="2.8"/>
<ellipse cx="812.6" cy="828.8" rx="3" ry="1.8" stroke-width="1.2" fill="#555"/>
<path d="M718.6 850L718.6 863" stroke-width="2.8"/>
<ellipse cx="718.6" cy="863.3" rx="3" ry="1.8" stroke-width="1.2" fill="#555"/>
<path d="M732.6 856L732.6 870.5" stroke-width="2.8"/>
<ellipse cx="732.6" cy="870.8" rx="3" ry="1.8" stroke-width="1.2" fill="#555"/>
<path d="M483.8 932.5C489.8 933.6 507.3 936.9 520 939.2C532.7 941.6 546.7 944.2 560 946.6C573.3 949 591.3 952.3 600 953.8C608.7 955.3 608.5 955.3 612 955.8C615.5 956.3 618.2 956.8 621 956.6C623.8 956.4 626.6 955.7 629 954.5C631.4 953.3 633.5 951.8 635.5 949.5C637.5 947.2 638.1 946.5 641 941C643.9 935.5 647.9 925.6 652.8 916.2C657.7 906.8 665.8 891.9 670.2 884.4C674.6 876.9 676.7 874.4 679.2 871.2C681.7 868 683.1 866.8 685 865C686.9 863.2 689.7 861.2 690.6 860.4" stroke-width="11.6" stroke-linecap="butt" stroke-linejoin="round"/>
<path d="M483.8 932.5C489.8 933.6 507.3 936.9 520 939.2C532.7 941.6 546.7 944.2 560 946.6C573.3 949 591.3 952.3 600 953.8C608.7 955.3 608.5 955.3 612 955.8C615.5 956.3 618.2 956.8 621 956.6C623.8 956.4 626.6 955.7 629 954.5C631.4 953.3 633.5 951.8 635.5 949.5C637.5 947.2 638.1 946.5 641 941C643.9 935.5 647.9 925.6 652.8 916.2C657.7 906.8 665.8 891.9 670.2 884.4C674.6 876.9 676.7 874.4 679.2 871.2C681.7 868 683.1 866.8 685 865C686.9 863.2 689.7 861.2 690.6 860.4" stroke="#fff" stroke-width="9" stroke-linecap="butt" stroke-linejoin="round"/>
<path d="M484.5 926.6A2.6 5.6 0 0 0 484 938.4" stroke-width="1.3"/>
<path d="M687.6 858C690 856 694 859.5 693.6 862.8" stroke-width="1.3" fill="#fff"/>
<path d="M617.5 951L616 962" stroke-width="1"/>
<path d="M633.6 945.6L642 950" stroke-width="1"/>
<path d="M666 882L674.4 886.8" stroke-width="1"/>
<path d="M682.8 864L687.6 870" stroke-width="1"/>
<ellipse cx="697" cy="852.8" rx="4.6" ry="5.6" stroke-width="2.4" fill="#fff" transform="rotate(25 697 852.8)"/>
<ellipse cx="697.8" cy="853.2" rx="2.6" ry="3.6" stroke-width="1.1" fill="#fff" transform="rotate(25 697.8 853.2)"/>
<path d="M701.5 851L709.7 846.9" stroke-width="1.1"/>
<path d="M713.5 845L709.1 849.7L707.1 845.7Z" fill="#000" stroke="none"/>
<path d="M572.5 970.2C577.1 971 590.4 973.4 600 975C609.6 976.6 620.8 978.9 630 980C639.2 981.1 646.7 981.9 655 981.8C663.3 981.7 672.5 980.6 680 979.5C687.5 978.4 694 976.5 700 975C706 973.5 710.7 972.1 716 970.5C721.3 968.9 726.8 967.3 731.6 965.5C736.4 963.7 740.6 961.8 745 959.5C749.4 957.2 754.2 954.5 758 952C761.8 949.5 764.8 947.3 768 944.5C771.2 941.7 774.4 938.8 777.2 935.2C780 931.6 782.5 927.5 785 923C787.5 918.5 790.6 912.5 792.4 908C794.1 903.5 794.8 899.9 795.5 896C796.2 892.1 796.3 888 796.8 884.8C797.3 881.6 797.8 879.4 798.5 877C799.2 874.6 800 872.5 801.2 870.4C802.4 868.3 803.9 866.3 805.5 864.5C807.1 862.7 808.7 861 810.8 859.6C812.9 858.2 814.8 857.1 818 856C821.2 854.9 825.5 853.9 830 852.8C834.5 851.7 838.7 850.8 845 849.4C851.3 848 864.1 845.1 867.9 844.3" stroke-width="20.6" stroke-linecap="butt" stroke-linejoin="round"/>
<path d="M572.5 970.2C577.1 971 590.4 973.4 600 975C609.6 976.6 620.8 978.9 630 980C639.2 981.1 646.7 981.9 655 981.8C663.3 981.7 672.5 980.6 680 979.5C687.5 978.4 694 976.5 700 975C706 973.5 710.7 972.1 716 970.5C721.3 968.9 726.8 967.3 731.6 965.5C736.4 963.7 740.6 961.8 745 959.5C749.4 957.2 754.2 954.5 758 952C761.8 949.5 764.8 947.3 768 944.5C771.2 941.7 774.4 938.8 777.2 935.2C780 931.6 782.5 927.5 785 923C787.5 918.5 790.6 912.5 792.4 908C794.1 903.5 794.8 899.9 795.5 896C796.2 892.1 796.3 888 796.8 884.8C797.3 881.6 797.8 879.4 798.5 877C799.2 874.6 800 872.5 801.2 870.4C802.4 868.3 803.9 866.3 805.5 864.5C807.1 862.7 808.7 861 810.8 859.6C812.9 858.2 814.8 857.1 818 856C821.2 854.9 825.5 853.9 830 852.8C834.5 851.7 838.7 850.8 845 849.4C851.3 848 864.1 845.1 867.9 844.3" stroke="#fff" stroke-width="18" stroke-linecap="butt" stroke-linejoin="round"/>
<ellipse cx="867.9" cy="844.3" rx="6.9" ry="10" stroke-width="1.5" fill="#fff" transform="rotate(8 867.9 844.3)"/>
<ellipse cx="868.3" cy="844.3" rx="5.1" ry="8" stroke-width="1.3" transform="rotate(8 868.3 844.3)"/>
<path d="M650.5 972Q653.4 982.3 646.5 990.5" stroke-width="1" stroke-dasharray="3 2"/>
<path d="M691 968Q694.7 978.9 688.5 988.5" stroke-width="1" stroke-dasharray="3 2"/>
<path d="M731.6 956.5Q727.8 966.6 734 975.5" stroke-width="1" stroke-dasharray="3 2"/>
<path d="M783.6 906.4Q792.2 913.9 802.8 909.6" stroke-width="1" stroke-dasharray="3 2"/>
<path d="M787.6 882.4Q795.3 890.6 806 887.2" stroke-width="1" stroke-dasharray="3 2"/>
<path d="M816.6 846.8Q813.6 856.9 820.4 865" stroke-width="1" stroke-dasharray="3 2"/>
<path d="M782 1005.5L790.6 949.8" stroke-width="1.1"/>
<path d="M791.6 943.6L792.8 952.9L787.7 952.1Z" fill="#000" stroke="none"/>
<ellipse cx="549.5" cy="963.7" rx="60.5" ry="37.8" stroke-width="1.4"/>
<path d="M520 1014.5L525.6 1007.3" stroke-width="1.1"/>
<path d="M528.6 1003.4L526.2 1010.4L522.4 1007.5Z" fill="#000" stroke="none"/>
<path d="M515.5 951L515.5 972.8L540 977.5L540 955.8Z" stroke-width="1.1" fill="#fff"/>
<path d="M526 953.2L526 975L535.8 976.8L535.8 955Z" stroke-width="0.8" fill="#000"/>
<path d="M531.5 958L531.5 974.5" stroke-width="2.2" stroke="#fff"/>
<path d="M527.5 956.5L535 957.8" stroke-width="0.8" stroke-dasharray="1 1" stroke="#fff"/>
<path d="M540 955.5L540 979L562.5 983L562.5 959.5Z" stroke-width="1" fill="#000"/>
<path d="M543 962L543 975M546 958L549 958.5M558.5 962L558.5 976" stroke-width="1.6" stroke="#fff"/>
<path d="M547 969L554 970.5L554 977L547 975.5Z" stroke-width="0.8" fill="#fff" stroke="#fff"/>
<path d="M555.6 942L555.4 960" stroke-width="1.8"/>
<path d="M557.5 956L557.5 983.5" stroke-width="3"/>
<path d="M562.5 959.5L575 962M562.5 983L575 985" stroke-width="1"/>
<path d="M565 958L565 980.5L574 982.3L574 959.8Z" stroke-width="0.8" fill="#000"/>
<path d="M570.3 963L570.3 980" stroke-width="2.2" stroke="#fff"/>
<path d="M566.5 961.2L573.5 962.5" stroke-width="0.8" stroke-dasharray="1 1" stroke="#fff"/>
<ellipse cx="748" cy="999" rx="2.8" ry="2" stroke-width="1.4" fill="#555"/>
<ellipse cx="748" cy="1005.8" rx="4.2" ry="2" stroke-width="1.2" fill="#fff"/>
<ellipse cx="748" cy="1005.8" rx="1.6" ry="0.7" stroke-width="0.9"/>
<path d="M747.8 1011.5C745.2 1013 746 1017.5 749.5 1019L753 1020L756.6 1018.5L756 1012Z" stroke-width="1.5" fill="#fff"/>
<path d="M749.5 1012L751 1017L753.5 1012.2M751 1017L751.6 1019.5" stroke-width="1.3"/>
<path d="M748.8 1023.5L748.8 1037.5" stroke-width="2.8"/>
<ellipse cx="748.8" cy="1038.5" rx="3" ry="1.8" stroke-width="1.2" fill="#444"/>
<path d="M759 1014.8L808 1015L808 1018.4L759 1018.6Z" stroke-width="1.1" fill="#fff"/>
<path d="M808 1014.8L820 1019.6L819 1022L807.5 1018Z" stroke-width="1" fill="#555"/>
<ellipse cx="550.3" cy="1112" rx="2.8" ry="2" stroke-width="1.4" fill="#555"/>
<ellipse cx="550.3" cy="1118.8" rx="4.2" ry="2" stroke-width="1.2" fill="#fff"/>
<ellipse cx="550.3" cy="1118.8" rx="1.6" ry="0.7" stroke-width="0.9"/>
<path d="M550.1 1124.5C547.5 1126 548.3 1130.5 551.8 1132L555.3 1133L558.9 1131.5L558.3 1125Z" stroke-width="1.5" fill="#fff"/>
<path d="M551.8 1125L553.3 1130L555.8 1125.2M553.3 1130L553.9 1132.5" stroke-width="1.3"/>
<path d="M551.1 1136.5L551.1 1150.5" stroke-width="2.8"/>
<ellipse cx="551.1" cy="1151.5" rx="3" ry="1.8" stroke-width="1.2" fill="#444"/>
<path d="M562 1128.6L639.5 1130.2L639.5 1133.8L562 1132.4Z" stroke-width="1.1" fill="#fff"/>
<path d="M639.5 1130L656.5 1137L655.5 1140L639 1134Z" stroke-width="1" fill="#555"/>
<ellipse cx="488" cy="1095.5" rx="212" ry="81" stroke-width="1.5"/>
<path d="M374.5 1075L417 1074.8A3.6 13 0 0 1 417 1101L374.5 1101C373 1094 373 1082 374.5 1075Z" stroke-width="1.4" fill="#fff"/>
<path d="M417 1074.8A3.6 13 0 0 0 417 1101" stroke-width="1.1"/>
<ellipse cx="427.5" cy="1087.5" rx="4.6" ry="13.6" stroke-width="1.6" fill="#fff"/>
<ellipse cx="428.3" cy="1087.5" rx="3.4" ry="11.6" stroke-width="1.2"/>
<path d="M426 1100.3A4.6 13.6 0 0 0 430.5 1098.5" stroke-width="2.6"/>
<ellipse cx="438" cy="1087.5" rx="4.6" ry="13.6" stroke-width="1.6" fill="#fff"/>
<ellipse cx="438.8" cy="1087.5" rx="3.4" ry="11.6" stroke-width="1.2"/>
<path d="M436.5 1100.3A4.6 13.6 0 0 0 441 1098.5" stroke-width="2.6"/>
<path d="M445.5 1078.7L466 1078.7L466 1098.7L445.5 1098.7Z" stroke-width="1.3" fill="#fff"/>
<path d="M445.5 1078.7C443.8 1084 443.8 1093 445.5 1098.7" stroke-width="1.1"/>
<path d="M466 1078.7L470 1074L486 1073.6L486 1101.4L470 1101L466 1098.7" stroke-width="1.3" fill="#fff"/>
<path d="M470 1074C468.5 1082 468.5 1093 470 1101" stroke-width="1"/>
<path d="M486 1071L490.5 1071L490.5 1106L486 1106Z" stroke-width="1.2" fill="#111"/>
<path d="M490.5 1078.5L512 1078.5L512 1098.7L490.5 1098.7" stroke-width="1.3" fill="#fff"/>
<path d="M512 1078.5C513.6 1084 513.6 1093 512 1098.7" stroke-width="1.1"/>
<path d="M474 1086.5L486 1086.5M479 1083L479 1092M482.5 1082L482.5 1093" stroke-width="1.6"/>
<path d="M472 1088L478 1088" stroke-width="2.4"/>
<ellipse cx="518" cy="1087.5" rx="4.6" ry="13.6" stroke-width="1.6" fill="#fff"/>
<ellipse cx="518.8" cy="1087.5" rx="3.4" ry="11.6" stroke-width="1.2"/>
<path d="M516.5 1100.3A4.6 13.6 0 0 0 521 1098.5" stroke-width="2.6"/>
<ellipse cx="528.5" cy="1087.5" rx="4.6" ry="13.6" stroke-width="1.6" fill="#fff"/>
<ellipse cx="529.3" cy="1087.5" rx="3.4" ry="11.6" stroke-width="1.2"/>
<path d="M527 1100.3A4.6 13.6 0 0 0 531.5 1098.5" stroke-width="2.6"/>
<path d="M538 1076L573.5 1076C575.5 1082 575.5 1095 573.5 1101.5L538 1101.5" stroke-width="1.4" fill="#fff"/>
<ellipse cx="538" cy="1088.8" rx="3.4" ry="12.8" stroke-width="1.2" fill="#fff"/>
<path d="M436 1057.2 L436 1047.2 C437 1043.7 442 1042.2 447 1040.7 C450 1039.2 451 1035.2 455 1034.8 L511 1034.8 C515 1035.2 516 1039.2 519 1040.7 C524 1042.2 529 1043.7 530 1047.2 L530 1057.2" stroke-width="1.4" fill="#fff"/>
<path d="M435 1057.2L531 1057.2" stroke-width="2.4"/>
<path d="M440 1056.2Q439.8 1049.5 440.8 1043.2" stroke-width="1"/>
<path d="M444 1056.2Q443.5 1049.5 445.6 1043.2" stroke-width="1"/>
<path d="M448 1056.2Q447.2 1048.4 450.6 1041.2" stroke-width="1"/>
<path d="M452 1056.2Q451 1045.7 455.2 1036.2" stroke-width="1"/>
<path d="M526 1056.2Q526.2 1049.5 525.2 1043.2" stroke-width="1"/>
<path d="M522 1056.2Q522.5 1049.5 520.4 1043.2" stroke-width="1"/>
<path d="M518 1056.2Q518.8 1048.4 515.4 1041.2" stroke-width="1"/>
<path d="M514 1056.2Q515 1045.7 510.8 1036.2" stroke-width="1"/>
<path d="M481 1056.7L481 1034.8" stroke-width="2"/>
<path d="M489 1056.7L489 1034.8" stroke-width="2"/>
<path d="M485 1056.2L485 1035.2" stroke-width="0.8"/>
<path d="M431 1141 L431 1151 C432 1154.5 437 1156 442 1157.5 C445 1159 446 1163 450 1163.4 L506 1163.4 C510 1163 511 1159 514 1157.5 C519 1156 524 1154.5 525 1151 L525 1141" stroke-width="1.4" fill="#fff"/>
<path d="M430 1141L526 1141" stroke-width="2.4"/>
<path d="M435 1142Q434.8 1148.7 435.8 1155" stroke-width="1"/>
<path d="M439 1142Q438.5 1148.7 440.6 1155" stroke-width="1"/>
<path d="M443 1142Q442.2 1149.8 445.6 1157" stroke-width="1"/>
<path d="M447 1142Q446 1152.5 450.2 1162" stroke-width="1"/>
<path d="M521 1142Q521.2 1148.7 520.2 1155" stroke-width="1"/>
<path d="M517 1142Q517.5 1148.7 515.4 1155" stroke-width="1"/>
<path d="M513 1142Q513.8 1149.8 510.4 1157" stroke-width="1"/>
<path d="M509 1142Q510 1152.5 505.8 1162" stroke-width="1"/>
<path d="M476 1141.5L476 1163.4" stroke-width="2"/>
<path d="M484 1141.5L484 1163.4" stroke-width="2"/>
<path d="M480 1142L480 1163" stroke-width="0.8"/>
<path d="M147.6 1238.4L167.2 1207.2L172 1209.6L172.8 1214L202.4 1197.2L207.6 1200L207.6 1224.4L172.8 1243.6L172.4 1253.2Z" stroke-width="1.7" fill="#fff" stroke-linejoin="miter"/>
<path d="M153.2 1240.8L170.8 1211.6" stroke-width="0.9"/>
<path d="M172.8 1214L173.2 1219L206.4 1201.2" stroke-width="0.9"/>
<text transform="matrix(0.887 -0.495 -0.13 0.986 171.2 1242.6)" font-size="24" font-weight="bold" fill="#000" stroke="#000" stroke-width="0.9" textLength="38" lengthAdjust="spacingAndGlyphs">FWD</text>
</svg>
</body></html>
